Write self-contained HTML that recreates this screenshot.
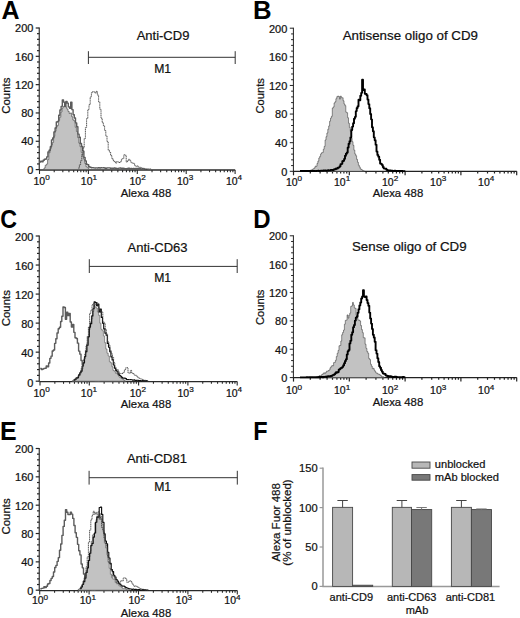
<!DOCTYPE html>
<html><head><meta charset="utf-8"><style>
html,body{margin:0;padding:0;background:#fff;}
svg{display:block;font-family:"Liberation Sans", sans-serif;}
text{stroke:#111;stroke-width:0.22px;paint-order:stroke;}
text[font-weight=bold]{stroke:none;}
</style></head><body>
<svg width="520" height="618" viewBox="0 0 520 618">
<rect width="520" height="618" fill="#fff"/>
<line x1="39.3" y1="27.5" x2="39.3" y2="170.1" stroke="#505050" stroke-width="1.4"/>
<line x1="35.7" y1="169.6" x2="39.3" y2="169.6" stroke="#262626" stroke-width="1.2"/>
<text transform="translate(33.4,173.8) scale(1.06,1)" font-size="10.4" text-anchor="end" font-weight="normal" fill="#111" >0</text>
<line x1="37" y1="163.94" x2="39.3" y2="163.94" stroke="#262626" stroke-width="1.2"/>
<line x1="37" y1="158.27" x2="39.3" y2="158.27" stroke="#262626" stroke-width="1.2"/>
<line x1="37" y1="152.61" x2="39.3" y2="152.61" stroke="#262626" stroke-width="1.2"/>
<line x1="37" y1="146.94" x2="39.3" y2="146.94" stroke="#262626" stroke-width="1.2"/>
<line x1="35.7" y1="141.28" x2="39.3" y2="141.28" stroke="#262626" stroke-width="1.2"/>
<text transform="translate(33.4,145.48) scale(1.06,1)" font-size="10.4" text-anchor="end" font-weight="normal" fill="#111" >40</text>
<line x1="37" y1="135.62" x2="39.3" y2="135.62" stroke="#262626" stroke-width="1.2"/>
<line x1="37" y1="129.95" x2="39.3" y2="129.95" stroke="#262626" stroke-width="1.2"/>
<line x1="37" y1="124.29" x2="39.3" y2="124.29" stroke="#262626" stroke-width="1.2"/>
<line x1="37" y1="118.62" x2="39.3" y2="118.62" stroke="#262626" stroke-width="1.2"/>
<line x1="35.7" y1="112.96" x2="39.3" y2="112.96" stroke="#262626" stroke-width="1.2"/>
<text transform="translate(33.4,117.16) scale(1.06,1)" font-size="10.4" text-anchor="end" font-weight="normal" fill="#111" >80</text>
<line x1="37" y1="107.3" x2="39.3" y2="107.3" stroke="#262626" stroke-width="1.2"/>
<line x1="37" y1="101.63" x2="39.3" y2="101.63" stroke="#262626" stroke-width="1.2"/>
<line x1="37" y1="95.97" x2="39.3" y2="95.97" stroke="#262626" stroke-width="1.2"/>
<line x1="37" y1="90.3" x2="39.3" y2="90.3" stroke="#262626" stroke-width="1.2"/>
<line x1="35.7" y1="84.64" x2="39.3" y2="84.64" stroke="#262626" stroke-width="1.2"/>
<text transform="translate(33.4,88.84) scale(1.06,1)" font-size="10.4" text-anchor="end" font-weight="normal" fill="#111" >120</text>
<line x1="37" y1="78.98" x2="39.3" y2="78.98" stroke="#262626" stroke-width="1.2"/>
<line x1="37" y1="73.31" x2="39.3" y2="73.31" stroke="#262626" stroke-width="1.2"/>
<line x1="37" y1="67.65" x2="39.3" y2="67.65" stroke="#262626" stroke-width="1.2"/>
<line x1="37" y1="61.98" x2="39.3" y2="61.98" stroke="#262626" stroke-width="1.2"/>
<line x1="35.7" y1="56.32" x2="39.3" y2="56.32" stroke="#262626" stroke-width="1.2"/>
<text transform="translate(33.4,60.52) scale(1.06,1)" font-size="10.4" text-anchor="end" font-weight="normal" fill="#111" >160</text>
<line x1="37" y1="50.66" x2="39.3" y2="50.66" stroke="#262626" stroke-width="1.2"/>
<line x1="37" y1="44.99" x2="39.3" y2="44.99" stroke="#262626" stroke-width="1.2"/>
<line x1="37" y1="39.33" x2="39.3" y2="39.33" stroke="#262626" stroke-width="1.2"/>
<line x1="37" y1="33.66" x2="39.3" y2="33.66" stroke="#262626" stroke-width="1.2"/>
<line x1="35.7" y1="28" x2="39.3" y2="28" stroke="#262626" stroke-width="1.2"/>
<text transform="translate(33.4,32.2) scale(1.06,1)" font-size="10.4" text-anchor="end" font-weight="normal" fill="#111" >200</text>
<line x1="39" y1="170" x2="235.2" y2="170" stroke="#2a2a2a" stroke-width="1.4"/>
<line x1="39.5" y1="170" x2="39.5" y2="174" stroke="#2a2a2a" stroke-width="1.1"/>
<line x1="54.22" y1="170" x2="54.22" y2="172.2" stroke="#2a2a2a" stroke-width="1.1"/>
<line x1="62.83" y1="170" x2="62.83" y2="172.2" stroke="#2a2a2a" stroke-width="1.1"/>
<line x1="68.94" y1="170" x2="68.94" y2="172.2" stroke="#2a2a2a" stroke-width="1.1"/>
<line x1="73.68" y1="170" x2="73.68" y2="172.2" stroke="#2a2a2a" stroke-width="1.1"/>
<line x1="77.55" y1="170" x2="77.55" y2="172.2" stroke="#2a2a2a" stroke-width="1.1"/>
<line x1="80.83" y1="170" x2="80.83" y2="172.2" stroke="#2a2a2a" stroke-width="1.1"/>
<line x1="83.66" y1="170" x2="83.66" y2="172.2" stroke="#2a2a2a" stroke-width="1.1"/>
<line x1="86.16" y1="170" x2="86.16" y2="172.2" stroke="#2a2a2a" stroke-width="1.1"/>
<line x1="88.4" y1="170" x2="88.4" y2="174" stroke="#2a2a2a" stroke-width="1.1"/>
<line x1="103.12" y1="170" x2="103.12" y2="172.2" stroke="#2a2a2a" stroke-width="1.1"/>
<line x1="111.73" y1="170" x2="111.73" y2="172.2" stroke="#2a2a2a" stroke-width="1.1"/>
<line x1="117.84" y1="170" x2="117.84" y2="172.2" stroke="#2a2a2a" stroke-width="1.1"/>
<line x1="122.58" y1="170" x2="122.58" y2="172.2" stroke="#2a2a2a" stroke-width="1.1"/>
<line x1="126.45" y1="170" x2="126.45" y2="172.2" stroke="#2a2a2a" stroke-width="1.1"/>
<line x1="129.73" y1="170" x2="129.73" y2="172.2" stroke="#2a2a2a" stroke-width="1.1"/>
<line x1="132.56" y1="170" x2="132.56" y2="172.2" stroke="#2a2a2a" stroke-width="1.1"/>
<line x1="135.06" y1="170" x2="135.06" y2="172.2" stroke="#2a2a2a" stroke-width="1.1"/>
<line x1="137.3" y1="170" x2="137.3" y2="174" stroke="#2a2a2a" stroke-width="1.1"/>
<line x1="152.02" y1="170" x2="152.02" y2="172.2" stroke="#2a2a2a" stroke-width="1.1"/>
<line x1="160.63" y1="170" x2="160.63" y2="172.2" stroke="#2a2a2a" stroke-width="1.1"/>
<line x1="166.74" y1="170" x2="166.74" y2="172.2" stroke="#2a2a2a" stroke-width="1.1"/>
<line x1="171.48" y1="170" x2="171.48" y2="172.2" stroke="#2a2a2a" stroke-width="1.1"/>
<line x1="175.35" y1="170" x2="175.35" y2="172.2" stroke="#2a2a2a" stroke-width="1.1"/>
<line x1="178.63" y1="170" x2="178.63" y2="172.2" stroke="#2a2a2a" stroke-width="1.1"/>
<line x1="181.46" y1="170" x2="181.46" y2="172.2" stroke="#2a2a2a" stroke-width="1.1"/>
<line x1="183.96" y1="170" x2="183.96" y2="172.2" stroke="#2a2a2a" stroke-width="1.1"/>
<line x1="186.2" y1="170" x2="186.2" y2="174" stroke="#2a2a2a" stroke-width="1.1"/>
<line x1="200.92" y1="170" x2="200.92" y2="172.2" stroke="#2a2a2a" stroke-width="1.1"/>
<line x1="209.53" y1="170" x2="209.53" y2="172.2" stroke="#2a2a2a" stroke-width="1.1"/>
<line x1="215.64" y1="170" x2="215.64" y2="172.2" stroke="#2a2a2a" stroke-width="1.1"/>
<line x1="220.38" y1="170" x2="220.38" y2="172.2" stroke="#2a2a2a" stroke-width="1.1"/>
<line x1="224.25" y1="170" x2="224.25" y2="172.2" stroke="#2a2a2a" stroke-width="1.1"/>
<line x1="227.53" y1="170" x2="227.53" y2="172.2" stroke="#2a2a2a" stroke-width="1.1"/>
<line x1="230.36" y1="170" x2="230.36" y2="172.2" stroke="#2a2a2a" stroke-width="1.1"/>
<line x1="232.86" y1="170" x2="232.86" y2="172.2" stroke="#2a2a2a" stroke-width="1.1"/>
<line x1="235.1" y1="170" x2="235.1" y2="174" stroke="#2a2a2a" stroke-width="1.1"/>
<text transform="translate(33.5,185) scale(1.05,1)" font-size="10" fill="#111">10<tspan dy="-4.6" font-size="7.8">0</tspan></text>
<text transform="translate(80.8,185) scale(1.05,1)" font-size="10" fill="#111">10<tspan dy="-4.6" font-size="7.8">1</tspan></text>
<text transform="translate(129.5,185) scale(1.05,1)" font-size="10" fill="#111">10<tspan dy="-4.6" font-size="7.8">2</tspan></text>
<text transform="translate(177,185) scale(1.05,1)" font-size="10" fill="#111">10<tspan dy="-4.6" font-size="7.8">3</tspan></text>
<text transform="translate(225.9,185) scale(1.05,1)" font-size="10" fill="#111">10<tspan dy="-4.6" font-size="7.8">4</tspan></text>
<text x="146" y="196.8" font-size="11.35" text-anchor="middle" font-weight="normal" fill="#111" >Alexa 488</text>
<text transform="translate(9.8,95.7) rotate(-90)" font-size="11.4" text-anchor="middle" fill="#111">Counts</text>
<text x="163" y="40.3" font-size="13" text-anchor="middle" font-weight="normal" fill="#111" >Anti-CD9</text>
<line x1="88.4" y1="57.3" x2="235.2" y2="57.3" stroke="#333" stroke-width="1"/>
<line x1="88.4" y1="51.2" x2="88.4" y2="64" stroke="#333" stroke-width="1"/>
<line x1="235.2" y1="51.2" x2="235.2" y2="64" stroke="#333" stroke-width="1"/>
<text x="162.6" y="73.3" font-size="12.2" text-anchor="middle" font-weight="normal" fill="#111" >M1</text>
<path d="M44,168 L45.2,168 L45.2,165.3 L46.4,165.3 L46.4,164.14 L47.6,164.14 L47.6,159.58 L48.8,159.58 L48.8,152.78 L50,152.78 L50,148.74 L51.2,148.74 L51.2,145.03 L52.4,145.03 L52.4,142.44 L53.6,142.44 L53.6,136.23 L54.8,136.23 L54.8,131.19 L56,131.19 L56,127.03 L57.2,127.03 L57.2,125.44 L58.4,125.44 L58.4,120.4 L59.6,120.4 L59.6,117.21 L60.8,117.21 L60.8,111.98 L62,111.98 L62,108.04 L63.2,108.04 L63.2,106.43 L64.4,106.43 L64.4,106.73 L65.6,106.73 L65.6,107.01 L66.8,107.01 L66.8,109.05 L68,109.05 L68,111.48 L69.2,111.48 L69.2,113.49 L70.4,113.49 L70.4,112.97 L71.6,112.97 L71.6,116.7 L72.8,116.7 L72.8,119.94 L74,119.94 L74,120.96 L75.2,120.96 L75.2,127.24 L76.4,127.24 L76.4,131.49 L77.6,131.49 L77.6,137.54 L78.8,137.54 L78.8,143.1 L80,143.1 L80,146.67 L81.2,146.67 L81.2,152.34 L82.4,152.34 L82.4,156.29 L83.6,156.29 L83.6,159.12 L84.8,159.12 L84.8,163.51 L86,163.51 L86,166.74 L87.2,166.74 L87.2,167.31 L88.4,167.31 L88.4,168.97 L89.6,168.97 L89.6,169.6 L44,169.6 Z" fill="#c2c2c2" stroke="#555" stroke-width="0.7" stroke-linejoin="round"/>
<path d="M39.5,161.96 L40.7,161.96 L40.7,161.31 L41.9,161.31 L41.9,161.68 L43.1,161.68 L43.1,160.25 L44.3,160.25 L44.3,159.28 L45.5,159.28 L45.5,158.94 L46.7,158.94 L46.7,156.84 L47.9,156.84 L47.9,151.97 L49.1,151.97 L49.1,150.21 L50.3,150.21 L50.3,146.77 L51.5,146.77 L51.5,139.92 L52.7,139.92 L52.7,137.84 L53.9,137.84 L53.9,131.91 L55.1,131.91 L55.1,127.93 L56.3,127.93 L56.3,122.07 L57.5,122.07 L57.5,121.36 L58.7,121.36 L58.7,115.23 L59.9,115.23 L59.9,109.96 L61.1,109.96 L61.1,106.36 L62.3,106.36 L62.3,100.02 L63.5,100.02 L63.5,102.1 L64.7,102.1 L64.7,106.41 L65.9,106.41 L65.9,101.36 L67.1,101.36 L67.1,103.17 L68.3,103.17 L68.3,106.85 L69.5,106.85 L69.5,108.32 L70.7,108.32 L70.7,102.08 L71.9,102.08 L71.9,109.67 L73.1,109.67 L73.1,114.8 L74.3,114.8 L74.3,117.96 L75.5,117.96 L75.5,122.92 L76.7,122.92 L76.7,126.78 L77.9,126.78 L77.9,134.09 L79.1,134.09 L79.1,137.21 L80.3,137.21 L80.3,143.47 L81.5,143.47 L81.5,146.43 L82.7,146.43 L82.7,151.11 L83.9,151.11 L83.9,157.37 L85.1,157.37 L85.1,160.92 L86.3,160.92 L86.3,164.29 L87.5,164.29 L87.5,164.68 L88.7,164.68 L88.7,166.68 L89.9,166.68 L89.9,167.3 L91.1,167.3 L91.1,167.76 L92.3,167.76 L92.3,167.66 L93.5,167.66 L93.5,167.89 L94.7,167.89 L94.7,168.04 L95.9,168.04 L95.9,167.92 L97.1,167.92 L97.1,168.03 L98.3,168.03 L98.3,167.75 L99.5,167.75 L99.5,167.97 L100.7,167.97 L100.7,167.76 L101.9,167.76 L101.9,167.85 L103.1,167.85 L103.1,167.74 L104.3,167.74 L104.3,168.05 L105.5,168.05 L105.5,168.51 L106.7,168.51 L106.7,167.91 L107.9,167.91 L107.9,167.84 L109.1,167.84 L109.1,167.91 L110.3,167.91 L110.3,168.22 L111.5,168.22 L111.5,168.11 L112.7,168.11 L112.7,168.56 L113.9,168.56 L113.9,168.05 L115.1,168.05 L115.1,168.28 L116.3,168.28 L116.3,168.54 L117.5,168.54 L117.5,168.74 L118.7,168.74 L118.7,168.1 L119.9,168.1 L119.9,168.01 L121.1,168.01 L121.1,168.77 L122.3,168.77 L122.3,168.22 L123.5,168.22 L123.5,168.55 L124.7,168.55 L124.7,168.78 L125.9,168.78 L125.9,168.69 L127.1,168.69 L127.1,168.35 L128.3,168.35 L128.3,168.3 L129.5,168.3 L129.5,168.94 L130.7,168.94 L130.7,168.54 L131.9,168.54 L131.9,168.98 L133.1,168.98 L133.1,168.52 L134.3,168.52 L134.3,168.82 L135.5,168.82 L135.5,168.45 L136.7,168.45 L136.7,168.41 L137.9,168.41 L137.9,168.77 L139.1,168.77 L139.1,168.46 L140.3,168.46 L140.3,168.97 L141.5,168.97 L141.5,169.17 L142.7,169.17 L142.7,168.91 L143.9,168.91 L143.9,169.29 L145.1,169.29 L145.1,169.25 L146.3,169.25 L146.3,169.19 L147.5,169.19 L147.5,169.15 L148.7,169.15 L148.7,169.45 L149.9,169.45 L149.9,169.3 L151.1,169.3" fill="none" stroke="#5c5c5c" stroke-width="1.4" stroke-linejoin="round" opacity="1"/>
<path d="M78.2,168.07 L79.4,168.07 L79.4,164.89 L80.6,164.89 L80.6,160.83 L81.8,160.83 L81.8,154.55 L83,154.55 L83,147.81 L84.2,147.81 L84.2,138.47 L85.4,138.47 L85.4,127.48 L86.6,127.48 L86.6,118.49 L87.8,118.49 L87.8,109.67 L89,109.67 L89,104.71 L90.2,104.71 L90.2,97.03 L91.4,97.03 L91.4,92.7 L92.6,92.7 L92.6,91.61 L93.8,91.61 L93.8,91.81 L95,91.81 L95,93.1 L96.2,93.1 L96.2,91.34 L97.4,91.34 L97.4,95.08 L98.6,95.08 L98.6,101.88 L99.8,101.88 L99.8,109.24 L101,109.24 L101,118.31 L102.2,118.31 L102.2,122.7 L103.4,122.7 L103.4,125.73 L104.6,125.73 L104.6,130.65 L105.8,130.65 L105.8,135.94 L107,135.94 L107,141.66 L108.2,141.66 L108.2,150.21 L109.4,150.21 L109.4,152.03 L110.6,152.03 L110.6,155.44 L111.8,155.44 L111.8,158.41 L113,158.41 L113,160.64 L114.2,160.64 L114.2,161.41 L115.4,161.41 L115.4,163.12 L116.6,163.12 L116.6,161.65 L117.8,161.65 L117.8,162.02 L119,162.02 L119,162.51 L120.2,162.51 L120.2,161.83 L121.4,161.83 L121.4,159.26 L122.6,159.26 L122.6,158.55 L123.8,158.55 L123.8,154.83 L125,154.83 L125,155.23 L126.2,155.23 L126.2,162.05 L127.4,162.05 L127.4,160.62 L128.6,160.62 L128.6,159.26 L129.8,159.26 L129.8,160.85 L131,160.85 L131,162.6 L132.2,162.6 L132.2,163.31 L133.4,163.31 L133.4,163.34 L134.6,163.34 L134.6,165.62 L135.8,165.62 L135.8,166.27 L137,166.27 L137,166 L138.2,166 L138.2,167.04 L139.4,167.04 L139.4,167.31 L140.6,167.31 L140.6,167.8 L141.8,167.8 L141.8,168.31 L143,168.31 L143,168.19 L144.2,168.19 L144.2,169.13 L145.4,169.13 L145.4,169.27 L146.6,169.27 L146.6,169.51 L147.8,169.51" fill="none" stroke="#3a3a3a" stroke-width="0.85" stroke-linejoin="round" stroke-dasharray="1.3,0.5" opacity="1"/>
<line x1="39.3" y1="235.5" x2="39.3" y2="381.7" stroke="#505050" stroke-width="1.4"/>
<line x1="35.7" y1="381.2" x2="39.3" y2="381.2" stroke="#262626" stroke-width="1.2"/>
<text transform="translate(33.4,386.5) scale(1.06,1)" font-size="10.4" text-anchor="end" font-weight="normal" fill="#111" >0</text>
<line x1="37" y1="375.39" x2="39.3" y2="375.39" stroke="#262626" stroke-width="1.2"/>
<line x1="37" y1="369.58" x2="39.3" y2="369.58" stroke="#262626" stroke-width="1.2"/>
<line x1="37" y1="363.78" x2="39.3" y2="363.78" stroke="#262626" stroke-width="1.2"/>
<line x1="37" y1="357.97" x2="39.3" y2="357.97" stroke="#262626" stroke-width="1.2"/>
<line x1="35.7" y1="352.16" x2="39.3" y2="352.16" stroke="#262626" stroke-width="1.2"/>
<text transform="translate(33.4,357.46) scale(1.06,1)" font-size="10.4" text-anchor="end" font-weight="normal" fill="#111" >40</text>
<line x1="37" y1="346.35" x2="39.3" y2="346.35" stroke="#262626" stroke-width="1.2"/>
<line x1="37" y1="340.54" x2="39.3" y2="340.54" stroke="#262626" stroke-width="1.2"/>
<line x1="37" y1="334.74" x2="39.3" y2="334.74" stroke="#262626" stroke-width="1.2"/>
<line x1="37" y1="328.93" x2="39.3" y2="328.93" stroke="#262626" stroke-width="1.2"/>
<line x1="35.7" y1="323.12" x2="39.3" y2="323.12" stroke="#262626" stroke-width="1.2"/>
<text transform="translate(33.4,328.42) scale(1.06,1)" font-size="10.4" text-anchor="end" font-weight="normal" fill="#111" >80</text>
<line x1="37" y1="317.31" x2="39.3" y2="317.31" stroke="#262626" stroke-width="1.2"/>
<line x1="37" y1="311.5" x2="39.3" y2="311.5" stroke="#262626" stroke-width="1.2"/>
<line x1="37" y1="305.7" x2="39.3" y2="305.7" stroke="#262626" stroke-width="1.2"/>
<line x1="37" y1="299.89" x2="39.3" y2="299.89" stroke="#262626" stroke-width="1.2"/>
<line x1="35.7" y1="294.08" x2="39.3" y2="294.08" stroke="#262626" stroke-width="1.2"/>
<text transform="translate(33.4,299.38) scale(1.06,1)" font-size="10.4" text-anchor="end" font-weight="normal" fill="#111" >120</text>
<line x1="37" y1="288.27" x2="39.3" y2="288.27" stroke="#262626" stroke-width="1.2"/>
<line x1="37" y1="282.46" x2="39.3" y2="282.46" stroke="#262626" stroke-width="1.2"/>
<line x1="37" y1="276.66" x2="39.3" y2="276.66" stroke="#262626" stroke-width="1.2"/>
<line x1="37" y1="270.85" x2="39.3" y2="270.85" stroke="#262626" stroke-width="1.2"/>
<line x1="35.7" y1="265.04" x2="39.3" y2="265.04" stroke="#262626" stroke-width="1.2"/>
<text transform="translate(33.4,270.34) scale(1.06,1)" font-size="10.4" text-anchor="end" font-weight="normal" fill="#111" >160</text>
<line x1="37" y1="259.23" x2="39.3" y2="259.23" stroke="#262626" stroke-width="1.2"/>
<line x1="37" y1="253.42" x2="39.3" y2="253.42" stroke="#262626" stroke-width="1.2"/>
<line x1="37" y1="247.62" x2="39.3" y2="247.62" stroke="#262626" stroke-width="1.2"/>
<line x1="37" y1="241.81" x2="39.3" y2="241.81" stroke="#262626" stroke-width="1.2"/>
<line x1="35.7" y1="236" x2="39.3" y2="236" stroke="#262626" stroke-width="1.2"/>
<text transform="translate(33.4,241.3) scale(1.06,1)" font-size="10.4" text-anchor="end" font-weight="normal" fill="#111" >200</text>
<line x1="39.5" y1="381.6" x2="237.2" y2="381.6" stroke="#2a2a2a" stroke-width="1.4"/>
<line x1="40" y1="381.6" x2="40" y2="385.6" stroke="#2a2a2a" stroke-width="1.1"/>
<line x1="54.84" y1="381.6" x2="54.84" y2="383.8" stroke="#2a2a2a" stroke-width="1.1"/>
<line x1="63.52" y1="381.6" x2="63.52" y2="383.8" stroke="#2a2a2a" stroke-width="1.1"/>
<line x1="69.68" y1="381.6" x2="69.68" y2="383.8" stroke="#2a2a2a" stroke-width="1.1"/>
<line x1="74.46" y1="381.6" x2="74.46" y2="383.8" stroke="#2a2a2a" stroke-width="1.1"/>
<line x1="78.36" y1="381.6" x2="78.36" y2="383.8" stroke="#2a2a2a" stroke-width="1.1"/>
<line x1="81.66" y1="381.6" x2="81.66" y2="383.8" stroke="#2a2a2a" stroke-width="1.1"/>
<line x1="84.52" y1="381.6" x2="84.52" y2="383.8" stroke="#2a2a2a" stroke-width="1.1"/>
<line x1="87.04" y1="381.6" x2="87.04" y2="383.8" stroke="#2a2a2a" stroke-width="1.1"/>
<line x1="89.3" y1="381.6" x2="89.3" y2="385.6" stroke="#2a2a2a" stroke-width="1.1"/>
<line x1="104.14" y1="381.6" x2="104.14" y2="383.8" stroke="#2a2a2a" stroke-width="1.1"/>
<line x1="112.82" y1="381.6" x2="112.82" y2="383.8" stroke="#2a2a2a" stroke-width="1.1"/>
<line x1="118.98" y1="381.6" x2="118.98" y2="383.8" stroke="#2a2a2a" stroke-width="1.1"/>
<line x1="123.76" y1="381.6" x2="123.76" y2="383.8" stroke="#2a2a2a" stroke-width="1.1"/>
<line x1="127.66" y1="381.6" x2="127.66" y2="383.8" stroke="#2a2a2a" stroke-width="1.1"/>
<line x1="130.96" y1="381.6" x2="130.96" y2="383.8" stroke="#2a2a2a" stroke-width="1.1"/>
<line x1="133.82" y1="381.6" x2="133.82" y2="383.8" stroke="#2a2a2a" stroke-width="1.1"/>
<line x1="136.34" y1="381.6" x2="136.34" y2="383.8" stroke="#2a2a2a" stroke-width="1.1"/>
<line x1="138.6" y1="381.6" x2="138.6" y2="385.6" stroke="#2a2a2a" stroke-width="1.1"/>
<line x1="153.44" y1="381.6" x2="153.44" y2="383.8" stroke="#2a2a2a" stroke-width="1.1"/>
<line x1="162.12" y1="381.6" x2="162.12" y2="383.8" stroke="#2a2a2a" stroke-width="1.1"/>
<line x1="168.28" y1="381.6" x2="168.28" y2="383.8" stroke="#2a2a2a" stroke-width="1.1"/>
<line x1="173.06" y1="381.6" x2="173.06" y2="383.8" stroke="#2a2a2a" stroke-width="1.1"/>
<line x1="176.96" y1="381.6" x2="176.96" y2="383.8" stroke="#2a2a2a" stroke-width="1.1"/>
<line x1="180.26" y1="381.6" x2="180.26" y2="383.8" stroke="#2a2a2a" stroke-width="1.1"/>
<line x1="183.12" y1="381.6" x2="183.12" y2="383.8" stroke="#2a2a2a" stroke-width="1.1"/>
<line x1="185.64" y1="381.6" x2="185.64" y2="383.8" stroke="#2a2a2a" stroke-width="1.1"/>
<line x1="187.9" y1="381.6" x2="187.9" y2="385.6" stroke="#2a2a2a" stroke-width="1.1"/>
<line x1="202.74" y1="381.6" x2="202.74" y2="383.8" stroke="#2a2a2a" stroke-width="1.1"/>
<line x1="211.42" y1="381.6" x2="211.42" y2="383.8" stroke="#2a2a2a" stroke-width="1.1"/>
<line x1="217.58" y1="381.6" x2="217.58" y2="383.8" stroke="#2a2a2a" stroke-width="1.1"/>
<line x1="222.36" y1="381.6" x2="222.36" y2="383.8" stroke="#2a2a2a" stroke-width="1.1"/>
<line x1="226.26" y1="381.6" x2="226.26" y2="383.8" stroke="#2a2a2a" stroke-width="1.1"/>
<line x1="229.56" y1="381.6" x2="229.56" y2="383.8" stroke="#2a2a2a" stroke-width="1.1"/>
<line x1="232.42" y1="381.6" x2="232.42" y2="383.8" stroke="#2a2a2a" stroke-width="1.1"/>
<line x1="234.94" y1="381.6" x2="234.94" y2="383.8" stroke="#2a2a2a" stroke-width="1.1"/>
<line x1="237.2" y1="381.6" x2="237.2" y2="385.6" stroke="#2a2a2a" stroke-width="1.1"/>
<text transform="translate(33.5,396.7) scale(1.05,1)" font-size="10" fill="#111">10<tspan dy="-4.6" font-size="7.8">0</tspan></text>
<text transform="translate(80.8,396.7) scale(1.05,1)" font-size="10" fill="#111">10<tspan dy="-4.6" font-size="7.8">1</tspan></text>
<text transform="translate(129.7,396.7) scale(1.05,1)" font-size="10" fill="#111">10<tspan dy="-4.6" font-size="7.8">2</tspan></text>
<text transform="translate(177.5,396.7) scale(1.05,1)" font-size="10" fill="#111">10<tspan dy="-4.6" font-size="7.8">3</tspan></text>
<text transform="translate(225.9,396.7) scale(1.05,1)" font-size="10" fill="#111">10<tspan dy="-4.6" font-size="7.8">4</tspan></text>
<text x="146" y="408.2" font-size="11.35" text-anchor="middle" font-weight="normal" fill="#111" >Alexa 488</text>
<text transform="translate(9.8,308.2) rotate(-90)" font-size="11.4" text-anchor="middle" fill="#111">Counts</text>
<text x="157.5" y="251.5" font-size="13" text-anchor="middle" font-weight="normal" fill="#111" >Anti-CD63</text>
<line x1="89.3" y1="266.4" x2="237.2" y2="266.4" stroke="#333" stroke-width="1"/>
<line x1="89.3" y1="259.2" x2="89.3" y2="273" stroke="#333" stroke-width="1"/>
<line x1="237.2" y1="259.2" x2="237.2" y2="273" stroke="#333" stroke-width="1"/>
<text x="162.6" y="282.2" font-size="12.2" text-anchor="middle" font-weight="normal" fill="#111" >M1</text>
<path d="M40.2,368.43 L41.4,368.43 L41.4,369.52 L42.6,369.52 L42.6,369.05 L43.8,369.05 L43.8,368.33 L45,368.33 L45,368.28 L46.2,368.28 L46.2,366.01 L47.4,366.01 L47.4,366.87 L48.6,366.87 L48.6,363.01 L49.8,363.01 L49.8,358.37 L51,358.37 L51,356.15 L52.2,356.15 L52.2,350.94 L53.4,350.94 L53.4,350.05 L54.6,350.05 L54.6,343.36 L55.8,343.36 L55.8,338.8 L57,338.8 L57,333.01 L58.2,333.01 L58.2,328.8 L59.4,328.8 L59.4,327.25 L60.6,327.25 L60.6,321.46 L61.8,321.46 L61.8,316.23 L63,316.23 L63,307.06 L64.2,307.06 L64.2,307.56 L65.4,307.56 L65.4,319.24 L66.6,319.24 L66.6,312.24 L67.8,312.24 L67.8,315.52 L69,315.52 L69,313.41 L70.2,313.41 L70.2,322.05 L71.4,322.05 L71.4,327.02 L72.6,327.02 L72.6,324.54 L73.8,324.54 L73.8,332.37 L75,332.37 L75,337.79 L76.2,337.79 L76.2,338.56 L77.4,338.56 L77.4,343.15 L78.6,343.15 L78.6,351.11 L79.8,351.11 L79.8,354.16 L81,354.16 L81,360.46 L82.2,360.46 L82.2,364.62 L83.4,364.62 L83.4,369.02 L84.6,369.02 L84.6,370.24 L85.8,370.24 L85.8,373.1 L87,373.1 L87,374.45 L88.2,374.45 L88.2,376.39 L89.4,376.39 L89.4,378.42 L90.6,378.42 L90.6,379.46 L91.8,379.46 L91.8,380.15 L93,380.15 L93,380.39 L94.2,380.39 L94.2,380.65 L95.4,380.65 L95.4,380.72 L96.6,380.72 L96.6,380.63 L97.8,380.63 L97.8,381.04 L99,381.04 L99,380.78 L100.2,380.78" fill="none" stroke="#5c5c5c" stroke-width="1.4" stroke-linejoin="round" opacity="1"/>
<path d="M72.2,380.64 L73.4,380.64 L73.4,379.74 L74.6,379.74 L74.6,379.22 L75.8,379.22 L75.8,378.7 L77,378.7 L77,378.04 L78.2,378.04 L78.2,375.82 L79.4,375.82 L79.4,374.52 L80.6,374.52 L80.6,370.89 L81.8,370.89 L81.8,368.88 L83,368.88 L83,362.69 L84.2,362.69 L84.2,358.7 L85.4,358.7 L85.4,350.21 L86.6,350.21 L86.6,343.81 L87.8,343.81 L87.8,337.51 L89,337.51 L89,329.31 L90.2,329.31 L90.2,321.99 L91.4,321.99 L91.4,318.82 L92.6,318.82 L92.6,311.46 L93.8,311.46 L93.8,305.23 L95,305.23 L95,306.98 L96.2,306.98 L96.2,308.07 L97.4,308.07 L97.4,312 L98.6,312 L98.6,315.34 L99.8,315.34 L99.8,323.15 L101,323.15 L101,329.31 L102.2,329.31 L102.2,330.69 L103.4,330.69 L103.4,335.95 L104.6,335.95 L104.6,342.66 L105.8,342.66 L105.8,348.98 L107,348.98 L107,353.19 L108.2,353.19 L108.2,356.01 L109.4,356.01 L109.4,361.76 L110.6,361.76 L110.6,362.84 L111.8,362.84 L111.8,366.7 L113,366.7 L113,370.43 L114.2,370.43 L114.2,371.25 L115.4,371.25 L115.4,373.29 L116.6,373.29 L116.6,373.53 L117.8,373.53 L117.8,375.05 L119,375.05 L119,377 L120.2,377 L120.2,377.72 L121.4,377.72 L121.4,378.58 L122.6,378.58 L122.6,379.43 L123.8,379.43 L123.8,380.33 L125,380.33 L125,381.2 L126.2,381.2 L126.2,381.2 L72.2,381.2 Z" fill="#c2c2c2" stroke="#555" stroke-width="0.6" stroke-linejoin="round"/>
<path d="M73.7,380.07 L74.9,380.07 L74.9,379.35 L76.1,379.35 L76.1,377.8 L77.3,377.8 L77.3,377.69 L78.5,377.69 L78.5,374.88 L79.7,374.88 L79.7,372.78 L80.9,372.78 L80.9,371.13 L82.1,371.13 L82.1,366.03 L83.3,366.03 L83.3,362.88 L84.5,362.88 L84.5,356.57 L85.7,356.57 L85.7,351.65 L86.9,351.65 L86.9,345.25 L88.1,345.25 L88.1,336.63 L89.3,336.63 L89.3,327.06 L90.5,327.06 L90.5,323.69 L91.7,323.69 L91.7,315.9 L92.9,315.9 L92.9,308.7 L94.1,308.7 L94.1,301.89 L95.3,301.89 L95.3,302.52 L96.5,302.52 L96.5,305.71 L97.7,305.71 L97.7,303.96 L98.9,303.96 L98.9,312 L100.1,312 L100.1,308.95 L101.3,308.95 L101.3,317.38 L102.5,317.38 L102.5,323.21 L103.7,323.21 L103.7,328.93 L104.9,328.93 L104.9,333.15 L106.1,333.15 L106.1,335.21 L107.3,335.21 L107.3,343.39 L108.5,343.39 L108.5,347.26 L109.7,347.26 L109.7,351.79 L110.9,351.79 L110.9,356.87 L112.1,356.87 L112.1,359.91 L113.3,359.91 L113.3,365 L114.5,365 L114.5,368.22 L115.7,368.22 L115.7,370.4 L116.9,370.4 L116.9,371.93 L118.1,371.93 L118.1,374.07 L119.3,374.07 L119.3,375.49 L120.5,375.49 L120.5,376.23 L121.7,376.23 L121.7,377.6 L122.9,377.6 L122.9,378.25 L124.1,378.25 L124.1,378.05 L125.3,378.05 L125.3,378.63 L126.5,378.63 L126.5,379.56 L127.7,379.56 L127.7,379.64 L128.9,379.64 L128.9,379.77 L130.1,379.77 L130.1,379.56 L131.3,379.56 L131.3,379.77 L132.5,379.77 L132.5,380.22 L133.7,380.22 L133.7,379.76 L134.9,379.76 L134.9,380.5 L136.1,380.5 L136.1,380.37 L137.3,380.37 L137.3,380.22 L138.5,380.22 L138.5,380.68 L139.7,380.68 L139.7,380.52 L140.9,380.52 L140.9,380.85 L142.1,380.85 L142.1,380.54 L143.3,380.54 L143.3,380.55 L144.5,380.55 L144.5,380.72 L145.7,380.72 L145.7,380.62 L146.9,380.62 L146.9,380.97 L148.1,380.97" fill="none" stroke="#111" stroke-width="1.15" stroke-linejoin="round" opacity="1"/>
<path d="M74,380.39 L75.2,380.39 L75.2,378.64 L76.4,378.64 L76.4,378.59 L77.6,378.59 L77.6,376.75 L78.8,376.75 L78.8,375.63 L80,375.63 L80,372.81 L81.2,372.81 L81.2,368.36 L82.4,368.36 L82.4,365.75 L83.6,365.75 L83.6,359.17 L84.8,359.17 L84.8,353.64 L86,353.64 L86,345.53 L87.2,345.53 L87.2,336.46 L88.4,336.46 L88.4,327.11 L89.6,327.11 L89.6,313.34 L90.8,313.34 L90.8,310.38 L92,310.38 L92,304.76 L93.2,304.76 L93.2,303.83 L94.4,303.83 L94.4,303.48 L95.6,303.48 L95.6,304.6 L96.8,304.6 L96.8,302.91 L98,302.91 L98,307.12 L99.2,307.12 L99.2,309.63 L100.4,309.63 L100.4,312.39 L101.6,312.39 L101.6,311.86 L102.8,311.86 L102.8,321.78 L104,321.78 L104,323.32 L105.2,323.32 L105.2,329.47 L106.4,329.47 L106.4,333.99 L107.6,333.99 L107.6,341.71 L108.8,341.71 L108.8,345.23 L110,345.23 L110,350.25 L111.2,350.25 L111.2,353.82 L112.4,353.82 L112.4,357.17 L113.6,357.17 L113.6,362.54 L114.8,362.54 L114.8,367.12 L116,367.12 L116,369.61 L117.2,369.61 L117.2,369.72 L118.4,369.72 L118.4,372.03 L119.6,372.03 L119.6,373.85 L120.8,373.85 L120.8,373.53 L122,373.53 L122,373.53 L123.2,373.53 L123.2,372.32 L124.4,372.32 L124.4,369.9 L125.6,369.9 L125.6,367.87 L126.8,367.87 L126.8,367.67 L128,367.67 L128,372.91 L129.2,372.91 L129.2,373.17 L130.4,373.17 L130.4,370.39 L131.6,370.39 L131.6,373.17 L132.8,373.17 L132.8,373.64 L134,373.64 L134,375.04 L135.2,375.04 L135.2,375.27 L136.4,375.27 L136.4,376.11 L137.6,376.11 L137.6,377.29 L138.8,377.29 L138.8,378.3 L140,378.3 L140,378.91 L141.2,378.91 L141.2,379.03 L142.4,379.03 L142.4,379.64 L143.6,379.64 L143.6,380.42 L144.8,380.42 L144.8,380.23 L146,380.23 L146,380.89 L147.2,380.89 L147.2,381.2 L148.4,381.2" fill="none" stroke="#3a3a3a" stroke-width="0.85" stroke-linejoin="round" stroke-dasharray="1.3,0.5" opacity="1"/>
<line x1="39.3" y1="448" x2="39.3" y2="590.7" stroke="#505050" stroke-width="1.4"/>
<line x1="35.7" y1="590.2" x2="39.3" y2="590.2" stroke="#262626" stroke-width="1.2"/>
<text transform="translate(33.4,594.8) scale(1.06,1)" font-size="10.4" text-anchor="end" font-weight="normal" fill="#111" >0</text>
<line x1="37" y1="584.53" x2="39.3" y2="584.53" stroke="#262626" stroke-width="1.2"/>
<line x1="37" y1="578.86" x2="39.3" y2="578.86" stroke="#262626" stroke-width="1.2"/>
<line x1="37" y1="573.2" x2="39.3" y2="573.2" stroke="#262626" stroke-width="1.2"/>
<line x1="37" y1="567.53" x2="39.3" y2="567.53" stroke="#262626" stroke-width="1.2"/>
<line x1="35.7" y1="561.86" x2="39.3" y2="561.86" stroke="#262626" stroke-width="1.2"/>
<text transform="translate(33.4,566.46) scale(1.06,1)" font-size="10.4" text-anchor="end" font-weight="normal" fill="#111" >40</text>
<line x1="37" y1="556.19" x2="39.3" y2="556.19" stroke="#262626" stroke-width="1.2"/>
<line x1="37" y1="550.52" x2="39.3" y2="550.52" stroke="#262626" stroke-width="1.2"/>
<line x1="37" y1="544.86" x2="39.3" y2="544.86" stroke="#262626" stroke-width="1.2"/>
<line x1="37" y1="539.19" x2="39.3" y2="539.19" stroke="#262626" stroke-width="1.2"/>
<line x1="35.7" y1="533.52" x2="39.3" y2="533.52" stroke="#262626" stroke-width="1.2"/>
<text transform="translate(33.4,538.12) scale(1.06,1)" font-size="10.4" text-anchor="end" font-weight="normal" fill="#111" >80</text>
<line x1="37" y1="527.85" x2="39.3" y2="527.85" stroke="#262626" stroke-width="1.2"/>
<line x1="37" y1="522.18" x2="39.3" y2="522.18" stroke="#262626" stroke-width="1.2"/>
<line x1="37" y1="516.52" x2="39.3" y2="516.52" stroke="#262626" stroke-width="1.2"/>
<line x1="37" y1="510.85" x2="39.3" y2="510.85" stroke="#262626" stroke-width="1.2"/>
<line x1="35.7" y1="505.18" x2="39.3" y2="505.18" stroke="#262626" stroke-width="1.2"/>
<text transform="translate(33.4,509.78) scale(1.06,1)" font-size="10.4" text-anchor="end" font-weight="normal" fill="#111" >120</text>
<line x1="37" y1="499.51" x2="39.3" y2="499.51" stroke="#262626" stroke-width="1.2"/>
<line x1="37" y1="493.84" x2="39.3" y2="493.84" stroke="#262626" stroke-width="1.2"/>
<line x1="37" y1="488.18" x2="39.3" y2="488.18" stroke="#262626" stroke-width="1.2"/>
<line x1="37" y1="482.51" x2="39.3" y2="482.51" stroke="#262626" stroke-width="1.2"/>
<line x1="35.7" y1="476.84" x2="39.3" y2="476.84" stroke="#262626" stroke-width="1.2"/>
<text transform="translate(33.4,481.44) scale(1.06,1)" font-size="10.4" text-anchor="end" font-weight="normal" fill="#111" >160</text>
<line x1="37" y1="471.17" x2="39.3" y2="471.17" stroke="#262626" stroke-width="1.2"/>
<line x1="37" y1="465.5" x2="39.3" y2="465.5" stroke="#262626" stroke-width="1.2"/>
<line x1="37" y1="459.84" x2="39.3" y2="459.84" stroke="#262626" stroke-width="1.2"/>
<line x1="37" y1="454.17" x2="39.3" y2="454.17" stroke="#262626" stroke-width="1.2"/>
<line x1="35.7" y1="448.5" x2="39.3" y2="448.5" stroke="#262626" stroke-width="1.2"/>
<text transform="translate(33.4,453.1) scale(1.06,1)" font-size="10.4" text-anchor="end" font-weight="normal" fill="#111" >200</text>
<line x1="39.2" y1="590.6" x2="237.3" y2="590.6" stroke="#2a2a2a" stroke-width="1.4"/>
<line x1="39.7" y1="590.6" x2="39.7" y2="594.6" stroke="#2a2a2a" stroke-width="1.1"/>
<line x1="54.57" y1="590.6" x2="54.57" y2="592.8" stroke="#2a2a2a" stroke-width="1.1"/>
<line x1="63.27" y1="590.6" x2="63.27" y2="592.8" stroke="#2a2a2a" stroke-width="1.1"/>
<line x1="69.44" y1="590.6" x2="69.44" y2="592.8" stroke="#2a2a2a" stroke-width="1.1"/>
<line x1="74.23" y1="590.6" x2="74.23" y2="592.8" stroke="#2a2a2a" stroke-width="1.1"/>
<line x1="78.14" y1="590.6" x2="78.14" y2="592.8" stroke="#2a2a2a" stroke-width="1.1"/>
<line x1="81.45" y1="590.6" x2="81.45" y2="592.8" stroke="#2a2a2a" stroke-width="1.1"/>
<line x1="84.31" y1="590.6" x2="84.31" y2="592.8" stroke="#2a2a2a" stroke-width="1.1"/>
<line x1="86.84" y1="590.6" x2="86.84" y2="592.8" stroke="#2a2a2a" stroke-width="1.1"/>
<line x1="89.1" y1="590.6" x2="89.1" y2="594.6" stroke="#2a2a2a" stroke-width="1.1"/>
<line x1="103.97" y1="590.6" x2="103.97" y2="592.8" stroke="#2a2a2a" stroke-width="1.1"/>
<line x1="112.67" y1="590.6" x2="112.67" y2="592.8" stroke="#2a2a2a" stroke-width="1.1"/>
<line x1="118.84" y1="590.6" x2="118.84" y2="592.8" stroke="#2a2a2a" stroke-width="1.1"/>
<line x1="123.63" y1="590.6" x2="123.63" y2="592.8" stroke="#2a2a2a" stroke-width="1.1"/>
<line x1="127.54" y1="590.6" x2="127.54" y2="592.8" stroke="#2a2a2a" stroke-width="1.1"/>
<line x1="130.85" y1="590.6" x2="130.85" y2="592.8" stroke="#2a2a2a" stroke-width="1.1"/>
<line x1="133.71" y1="590.6" x2="133.71" y2="592.8" stroke="#2a2a2a" stroke-width="1.1"/>
<line x1="136.24" y1="590.6" x2="136.24" y2="592.8" stroke="#2a2a2a" stroke-width="1.1"/>
<line x1="138.5" y1="590.6" x2="138.5" y2="594.6" stroke="#2a2a2a" stroke-width="1.1"/>
<line x1="153.37" y1="590.6" x2="153.37" y2="592.8" stroke="#2a2a2a" stroke-width="1.1"/>
<line x1="162.07" y1="590.6" x2="162.07" y2="592.8" stroke="#2a2a2a" stroke-width="1.1"/>
<line x1="168.24" y1="590.6" x2="168.24" y2="592.8" stroke="#2a2a2a" stroke-width="1.1"/>
<line x1="173.03" y1="590.6" x2="173.03" y2="592.8" stroke="#2a2a2a" stroke-width="1.1"/>
<line x1="176.94" y1="590.6" x2="176.94" y2="592.8" stroke="#2a2a2a" stroke-width="1.1"/>
<line x1="180.25" y1="590.6" x2="180.25" y2="592.8" stroke="#2a2a2a" stroke-width="1.1"/>
<line x1="183.11" y1="590.6" x2="183.11" y2="592.8" stroke="#2a2a2a" stroke-width="1.1"/>
<line x1="185.64" y1="590.6" x2="185.64" y2="592.8" stroke="#2a2a2a" stroke-width="1.1"/>
<line x1="187.9" y1="590.6" x2="187.9" y2="594.6" stroke="#2a2a2a" stroke-width="1.1"/>
<line x1="202.77" y1="590.6" x2="202.77" y2="592.8" stroke="#2a2a2a" stroke-width="1.1"/>
<line x1="211.47" y1="590.6" x2="211.47" y2="592.8" stroke="#2a2a2a" stroke-width="1.1"/>
<line x1="217.64" y1="590.6" x2="217.64" y2="592.8" stroke="#2a2a2a" stroke-width="1.1"/>
<line x1="222.43" y1="590.6" x2="222.43" y2="592.8" stroke="#2a2a2a" stroke-width="1.1"/>
<line x1="226.34" y1="590.6" x2="226.34" y2="592.8" stroke="#2a2a2a" stroke-width="1.1"/>
<line x1="229.65" y1="590.6" x2="229.65" y2="592.8" stroke="#2a2a2a" stroke-width="1.1"/>
<line x1="232.51" y1="590.6" x2="232.51" y2="592.8" stroke="#2a2a2a" stroke-width="1.1"/>
<line x1="235.04" y1="590.6" x2="235.04" y2="592.8" stroke="#2a2a2a" stroke-width="1.1"/>
<line x1="237.3" y1="590.6" x2="237.3" y2="594.6" stroke="#2a2a2a" stroke-width="1.1"/>
<text transform="translate(31.9,604.4) scale(1.05,1)" font-size="10" fill="#111">10<tspan dy="-4.6" font-size="7.8">0</tspan></text>
<text transform="translate(79.7,604.4) scale(1.05,1)" font-size="10" fill="#111">10<tspan dy="-4.6" font-size="7.8">1</tspan></text>
<text transform="translate(128.5,604.4) scale(1.05,1)" font-size="10" fill="#111">10<tspan dy="-4.6" font-size="7.8">2</tspan></text>
<text transform="translate(175.8,604.4) scale(1.05,1)" font-size="10" fill="#111">10<tspan dy="-4.6" font-size="7.8">3</tspan></text>
<text transform="translate(224.3,604.4) scale(1.05,1)" font-size="10" fill="#111">10<tspan dy="-4.6" font-size="7.8">4</tspan></text>
<text x="146" y="616.7" font-size="11.35" text-anchor="middle" font-weight="normal" fill="#111" >Alexa 488</text>
<text transform="translate(9.8,516.4) rotate(-90)" font-size="11.4" text-anchor="middle" fill="#111">Counts</text>
<text x="156.9" y="462.9" font-size="13" text-anchor="middle" font-weight="normal" fill="#111" >Anti-CD81</text>
<line x1="89.1" y1="477.7" x2="237.3" y2="477.7" stroke="#333" stroke-width="1"/>
<line x1="89.1" y1="470.8" x2="89.1" y2="484.6" stroke="#333" stroke-width="1"/>
<line x1="237.3" y1="470.8" x2="237.3" y2="484.6" stroke="#333" stroke-width="1"/>
<text x="162.6" y="490.9" font-size="12.2" text-anchor="middle" font-weight="normal" fill="#111" >M1</text>
<path d="M40.3,588.7 L41.5,588.7 L41.5,588.33 L42.7,588.33 L42.7,588.15 L43.9,588.15 L43.9,586.78 L45.1,586.78 L45.1,587.47 L46.3,587.47 L46.3,586.31 L47.5,586.31 L47.5,583.99 L48.7,583.99 L48.7,583.55 L49.9,583.55 L49.9,580.55 L51.1,580.55 L51.1,578.37 L52.3,578.37 L52.3,576.53 L53.5,576.53 L53.5,571.99 L54.7,571.99 L54.7,567.49 L55.9,567.49 L55.9,565.41 L57.1,565.41 L57.1,561.35 L58.3,561.35 L58.3,557.63 L59.5,557.63 L59.5,550.23 L60.7,550.23 L60.7,543.94 L61.9,543.94 L61.9,535.38 L63.1,535.38 L63.1,526.42 L64.3,526.42 L64.3,520.25 L65.5,520.25 L65.5,509.75 L66.7,509.75 L66.7,512.3 L67.9,512.3 L67.9,514.48 L69.1,514.48 L69.1,514.62 L70.3,514.62 L70.3,512.16 L71.5,512.16 L71.5,514.16 L72.7,514.16 L72.7,518.4 L73.9,518.4 L73.9,525.5 L75.1,525.5 L75.1,532.68 L76.3,532.68 L76.3,537.35 L77.5,537.35 L77.5,544.36 L78.7,544.36 L78.7,550.71 L79.9,550.71 L79.9,554.9 L81.1,554.9 L81.1,563.97 L82.3,563.97 L82.3,567.85 L83.5,567.85 L83.5,574 L84.7,574 L84.7,582.04 L85.9,582.04 L85.9,584.3 L87.1,584.3 L87.1,585.71 L88.3,585.71 L88.3,587.92 L89.5,587.92 L89.5,588.99 L90.7,588.99 L90.7,589.07 L91.9,589.07 L91.9,589.77 L93.1,589.77 L93.1,589.66 L94.3,589.66 L94.3,590.09 L95.5,590.09" fill="none" stroke="#5c5c5c" stroke-width="1.4" stroke-linejoin="round" opacity="1"/>
<path d="M78,589.56 L79.2,589.56 L79.2,588.47 L80.4,588.47 L80.4,587.1 L81.6,587.1 L81.6,585.1 L82.8,585.1 L82.8,581.28 L84,581.28 L84,577.77 L85.2,577.77 L85.2,573.33 L86.4,573.33 L86.4,570.17 L87.6,570.17 L87.6,562.63 L88.8,562.63 L88.8,556.89 L90,556.89 L90,550.88 L91.2,550.88 L91.2,541.33 L92.4,541.33 L92.4,534.91 L93.6,534.91 L93.6,533.91 L94.8,533.91 L94.8,522.63 L96,522.63 L96,519.58 L97.2,519.58 L97.2,517.02 L98.4,517.02 L98.4,514.95 L99.6,514.95 L99.6,513.7 L100.8,513.7 L100.8,519.13 L102,519.13 L102,524.21 L103.2,524.21 L103.2,532.12 L104.4,532.12 L104.4,542.96 L105.6,542.96 L105.6,547.88 L106.8,547.88 L106.8,554.58 L108,554.58 L108,562.18 L109.2,562.18 L109.2,568.27 L110.4,568.27 L110.4,574.25 L111.6,574.25 L111.6,577.64 L112.8,577.64 L112.8,579.14 L114,579.14 L114,579.08 L115.2,579.08 L115.2,582.49 L116.4,582.49 L116.4,583.84 L117.6,583.84 L117.6,583.8 L118.8,583.8 L118.8,585.74 L120,585.74 L120,586.29 L121.2,586.29 L121.2,587.37 L122.4,587.37 L122.4,588.53 L123.6,588.53 L123.6,588.41 L124.8,588.41 L124.8,588.65 L126,588.65 L126,589.62 L127.2,589.62 L127.2,589.98 L128.4,589.98 L128.4,590.2 L129.6,590.2 L129.6,590.2 L78,590.2 Z" fill="#c2c2c2" stroke="#555" stroke-width="0.6" stroke-linejoin="round"/>
<path d="M80,588.55 L81.2,588.55 L81.2,587.04 L82.4,587.04 L82.4,584.32 L83.6,584.32 L83.6,581.63 L84.8,581.63 L84.8,578.05 L86,578.05 L86,572.43 L87.2,572.43 L87.2,567.85 L88.4,567.85 L88.4,560.52 L89.6,560.52 L89.6,553.23 L90.8,553.23 L90.8,545.61 L92,545.61 L92,543.42 L93.2,543.42 L93.2,537.11 L94.4,537.11 L94.4,533.03 L95.6,533.03 L95.6,522.25 L96.8,522.25 L96.8,516.82 L98,516.82 L98,517.13 L99.2,517.13 L99.2,507.51 L100.4,507.51 L100.4,506.97 L101.6,506.97 L101.6,514.42 L102.8,514.42 L102.8,522.4 L104,522.4 L104,533.94 L105.2,533.94 L105.2,540.97 L106.4,540.97 L106.4,543.73 L107.6,543.73 L107.6,552.28 L108.8,552.28 L108.8,558.01 L110,558.01 L110,563.34 L111.2,563.34 L111.2,569.56 L112.4,569.56 L112.4,571.62 L113.6,571.62 L113.6,575.27 L114.8,575.27 L114.8,577.04 L116,577.04 L116,579.67 L117.2,579.67 L117.2,581.18 L118.4,581.18 L118.4,583.26 L119.6,583.26 L119.6,584.15 L120.8,584.15 L120.8,585.27 L122,585.27 L122,586.29 L123.2,586.29 L123.2,586.01 L124.4,586.01 L124.4,586.84 L125.6,586.84 L125.6,587.6 L126.8,587.6 L126.8,587.96 L128,587.96 L128,588.57 L129.2,588.57 L129.2,588.84 L130.4,588.84 L130.4,588.97 L131.6,588.97 L131.6,589.34 L132.8,589.34 L132.8,588.98 L134,588.98 L134,589.45 L135.2,589.45 L135.2,589.38 L136.4,589.38 L136.4,589.77 L137.6,589.77 L137.6,589.5 L138.8,589.5 L138.8,589.59 L140,589.59 L140,590.07 L141.2,590.07 L141.2,589.99 L142.4,589.99 L142.4,589.65 L143.6,589.65 L143.6,589.9 L144.8,589.9 L144.8,589.93 L146,589.93 L146,589.96 L147.2,589.96 L147.2,589.99 L148.4,589.99" fill="none" stroke="#111" stroke-width="1.15" stroke-linejoin="round" opacity="1"/>
<path d="M80,588.23 L81.2,588.23 L81.2,585.96 L82.4,585.96 L82.4,583.89 L83.6,583.89 L83.6,580.62 L84.8,580.62 L84.8,576.73 L86,576.73 L86,566.83 L87.2,566.83 L87.2,556.93 L88.4,556.93 L88.4,542.28 L89.6,542.28 L89.6,530.17 L90.8,530.17 L90.8,519.86 L92,519.86 L92,515.32 L93.2,515.32 L93.2,511.29 L94.4,511.29 L94.4,514.3 L95.6,514.3 L95.6,512.42 L96.8,512.42 L96.8,515.04 L98,515.04 L98,511.65 L99.2,511.65 L99.2,519.34 L100.4,519.34 L100.4,516.68 L101.6,516.68 L101.6,527.53 L102.8,527.53 L102.8,530.12 L104,530.12 L104,537.9 L105.2,537.9 L105.2,543.31 L106.4,543.31 L106.4,547.13 L107.6,547.13 L107.6,557.13 L108.8,557.13 L108.8,562.96 L110,562.96 L110,564.54 L111.2,564.54 L111.2,570.81 L112.4,570.81 L112.4,576.78 L113.6,576.78 L113.6,576.98 L114.8,576.98 L114.8,578.73 L116,578.73 L116,582.24 L117.2,582.24 L117.2,583.09 L118.4,583.09 L118.4,583.3 L119.6,583.3 L119.6,582.17 L120.8,582.17 L120.8,580.71 L122,580.71 L122,581 L123.2,581 L123.2,577.91 L124.4,577.91 L124.4,577.88 L125.6,577.88 L125.6,578.99 L126.8,578.99 L126.8,582.37 L128,582.37 L128,582.06 L129.2,582.06 L129.2,580.87 L130.4,580.87 L130.4,581.02 L131.6,581.02 L131.6,583.07 L132.8,583.07 L132.8,585 L134,585 L134,586.32 L135.2,586.32 L135.2,585.98 L136.4,585.98 L136.4,586.45 L137.6,586.45 L137.6,587.21 L138.8,587.21 L138.8,587.99 L140,587.99 L140,588.7 L141.2,588.7 L141.2,589.08 L142.4,589.08 L142.4,589.24 L143.6,589.24 L143.6,589.63 L144.8,589.63 L144.8,590.08 L146,590.08 L146,590.03 L147.2,590.03 L147.2,590.18 L148.4,590.18" fill="none" stroke="#3a3a3a" stroke-width="0.85" stroke-linejoin="round" stroke-dasharray="1.3,0.5" opacity="1"/>
<line x1="293.4" y1="27.7" x2="293.4" y2="171.8" stroke="#222" stroke-width="1.0"/>
<line x1="289.8" y1="171.3" x2="293.4" y2="171.3" stroke="#222" stroke-width="1.0"/>
<text transform="translate(287.3,175.7) scale(1.06,1)" font-size="10.4" text-anchor="end" font-weight="normal" fill="#111" >0</text>
<line x1="291.1" y1="165.58" x2="293.4" y2="165.58" stroke="#222" stroke-width="1.0"/>
<line x1="291.1" y1="159.85" x2="293.4" y2="159.85" stroke="#222" stroke-width="1.0"/>
<line x1="291.1" y1="154.13" x2="293.4" y2="154.13" stroke="#222" stroke-width="1.0"/>
<line x1="291.1" y1="148.4" x2="293.4" y2="148.4" stroke="#222" stroke-width="1.0"/>
<line x1="289.8" y1="142.68" x2="293.4" y2="142.68" stroke="#222" stroke-width="1.0"/>
<text transform="translate(287.3,147.08) scale(1.06,1)" font-size="10.4" text-anchor="end" font-weight="normal" fill="#111" >40</text>
<line x1="291.1" y1="136.96" x2="293.4" y2="136.96" stroke="#222" stroke-width="1.0"/>
<line x1="291.1" y1="131.23" x2="293.4" y2="131.23" stroke="#222" stroke-width="1.0"/>
<line x1="291.1" y1="125.51" x2="293.4" y2="125.51" stroke="#222" stroke-width="1.0"/>
<line x1="291.1" y1="119.78" x2="293.4" y2="119.78" stroke="#222" stroke-width="1.0"/>
<line x1="289.8" y1="114.06" x2="293.4" y2="114.06" stroke="#222" stroke-width="1.0"/>
<text transform="translate(287.3,118.46) scale(1.06,1)" font-size="10.4" text-anchor="end" font-weight="normal" fill="#111" >80</text>
<line x1="291.1" y1="108.34" x2="293.4" y2="108.34" stroke="#222" stroke-width="1.0"/>
<line x1="291.1" y1="102.61" x2="293.4" y2="102.61" stroke="#222" stroke-width="1.0"/>
<line x1="291.1" y1="96.89" x2="293.4" y2="96.89" stroke="#222" stroke-width="1.0"/>
<line x1="291.1" y1="91.16" x2="293.4" y2="91.16" stroke="#222" stroke-width="1.0"/>
<line x1="289.8" y1="85.44" x2="293.4" y2="85.44" stroke="#222" stroke-width="1.0"/>
<text transform="translate(287.3,89.84) scale(1.06,1)" font-size="10.4" text-anchor="end" font-weight="normal" fill="#111" >120</text>
<line x1="291.1" y1="79.72" x2="293.4" y2="79.72" stroke="#222" stroke-width="1.0"/>
<line x1="291.1" y1="73.99" x2="293.4" y2="73.99" stroke="#222" stroke-width="1.0"/>
<line x1="291.1" y1="68.27" x2="293.4" y2="68.27" stroke="#222" stroke-width="1.0"/>
<line x1="291.1" y1="62.54" x2="293.4" y2="62.54" stroke="#222" stroke-width="1.0"/>
<line x1="289.8" y1="56.82" x2="293.4" y2="56.82" stroke="#222" stroke-width="1.0"/>
<text transform="translate(287.3,61.22) scale(1.06,1)" font-size="10.4" text-anchor="end" font-weight="normal" fill="#111" >160</text>
<line x1="291.1" y1="51.1" x2="293.4" y2="51.1" stroke="#222" stroke-width="1.0"/>
<line x1="291.1" y1="45.37" x2="293.4" y2="45.37" stroke="#222" stroke-width="1.0"/>
<line x1="291.1" y1="39.65" x2="293.4" y2="39.65" stroke="#222" stroke-width="1.0"/>
<line x1="291.1" y1="33.92" x2="293.4" y2="33.92" stroke="#222" stroke-width="1.0"/>
<line x1="289.8" y1="28.2" x2="293.4" y2="28.2" stroke="#222" stroke-width="1.0"/>
<text transform="translate(287.3,32.6) scale(1.06,1)" font-size="10.4" text-anchor="end" font-weight="normal" fill="#111" >200</text>
<line x1="293" y1="171.3" x2="516.8" y2="171.3" stroke="#222" stroke-width="1.2"/>
<line x1="293.5" y1="171.3" x2="293.5" y2="175.3" stroke="#222" stroke-width="1.2"/>
<line x1="310.3" y1="171.3" x2="310.3" y2="173.5" stroke="#222" stroke-width="1.2"/>
<line x1="320.12" y1="171.3" x2="320.12" y2="173.5" stroke="#222" stroke-width="1.2"/>
<line x1="327.09" y1="171.3" x2="327.09" y2="173.5" stroke="#222" stroke-width="1.2"/>
<line x1="332.5" y1="171.3" x2="332.5" y2="173.5" stroke="#222" stroke-width="1.2"/>
<line x1="336.92" y1="171.3" x2="336.92" y2="173.5" stroke="#222" stroke-width="1.2"/>
<line x1="340.66" y1="171.3" x2="340.66" y2="173.5" stroke="#222" stroke-width="1.2"/>
<line x1="343.89" y1="171.3" x2="343.89" y2="173.5" stroke="#222" stroke-width="1.2"/>
<line x1="346.75" y1="171.3" x2="346.75" y2="173.5" stroke="#222" stroke-width="1.2"/>
<line x1="349.3" y1="171.3" x2="349.3" y2="175.3" stroke="#222" stroke-width="1.2"/>
<line x1="366.1" y1="171.3" x2="366.1" y2="173.5" stroke="#222" stroke-width="1.2"/>
<line x1="375.92" y1="171.3" x2="375.92" y2="173.5" stroke="#222" stroke-width="1.2"/>
<line x1="382.89" y1="171.3" x2="382.89" y2="173.5" stroke="#222" stroke-width="1.2"/>
<line x1="388.3" y1="171.3" x2="388.3" y2="173.5" stroke="#222" stroke-width="1.2"/>
<line x1="392.72" y1="171.3" x2="392.72" y2="173.5" stroke="#222" stroke-width="1.2"/>
<line x1="396.46" y1="171.3" x2="396.46" y2="173.5" stroke="#222" stroke-width="1.2"/>
<line x1="399.69" y1="171.3" x2="399.69" y2="173.5" stroke="#222" stroke-width="1.2"/>
<line x1="402.55" y1="171.3" x2="402.55" y2="173.5" stroke="#222" stroke-width="1.2"/>
<line x1="405.1" y1="171.3" x2="405.1" y2="175.3" stroke="#222" stroke-width="1.2"/>
<line x1="421.9" y1="171.3" x2="421.9" y2="173.5" stroke="#222" stroke-width="1.2"/>
<line x1="431.72" y1="171.3" x2="431.72" y2="173.5" stroke="#222" stroke-width="1.2"/>
<line x1="438.69" y1="171.3" x2="438.69" y2="173.5" stroke="#222" stroke-width="1.2"/>
<line x1="444.1" y1="171.3" x2="444.1" y2="173.5" stroke="#222" stroke-width="1.2"/>
<line x1="448.52" y1="171.3" x2="448.52" y2="173.5" stroke="#222" stroke-width="1.2"/>
<line x1="452.26" y1="171.3" x2="452.26" y2="173.5" stroke="#222" stroke-width="1.2"/>
<line x1="455.49" y1="171.3" x2="455.49" y2="173.5" stroke="#222" stroke-width="1.2"/>
<line x1="458.35" y1="171.3" x2="458.35" y2="173.5" stroke="#222" stroke-width="1.2"/>
<line x1="460.9" y1="171.3" x2="460.9" y2="175.3" stroke="#222" stroke-width="1.2"/>
<line x1="477.7" y1="171.3" x2="477.7" y2="173.5" stroke="#222" stroke-width="1.2"/>
<line x1="487.52" y1="171.3" x2="487.52" y2="173.5" stroke="#222" stroke-width="1.2"/>
<line x1="494.49" y1="171.3" x2="494.49" y2="173.5" stroke="#222" stroke-width="1.2"/>
<line x1="499.9" y1="171.3" x2="499.9" y2="173.5" stroke="#222" stroke-width="1.2"/>
<line x1="504.32" y1="171.3" x2="504.32" y2="173.5" stroke="#222" stroke-width="1.2"/>
<line x1="508.06" y1="171.3" x2="508.06" y2="173.5" stroke="#222" stroke-width="1.2"/>
<line x1="511.29" y1="171.3" x2="511.29" y2="173.5" stroke="#222" stroke-width="1.2"/>
<line x1="514.15" y1="171.3" x2="514.15" y2="173.5" stroke="#222" stroke-width="1.2"/>
<line x1="516.7" y1="171.3" x2="516.7" y2="175.3" stroke="#222" stroke-width="1.2"/>
<text transform="translate(285.9,185.9) scale(1.05,1)" font-size="10" fill="#111">10<tspan dy="-4.6" font-size="7.8">0</tspan></text>
<text transform="translate(333.95,185.9) scale(1.05,1)" font-size="10" fill="#111">10<tspan dy="-4.6" font-size="7.8">1</tspan></text>
<text transform="translate(382,185.9) scale(1.05,1)" font-size="10" fill="#111">10<tspan dy="-4.6" font-size="7.8">2</tspan></text>
<text transform="translate(430.05,185.9) scale(1.05,1)" font-size="10" fill="#111">10<tspan dy="-4.6" font-size="7.8">3</tspan></text>
<text transform="translate(478.1,185.9) scale(1.05,1)" font-size="10" fill="#111">10<tspan dy="-4.6" font-size="7.8">4</tspan></text>
<text x="398" y="197.2" font-size="11.35" text-anchor="middle" font-weight="normal" fill="#111" >Alexa 488</text>
<text transform="translate(263.6,95.9) rotate(-90)" font-size="11.2" text-anchor="middle" fill="#111">Counts</text>
<text x="410.3" y="39.5" font-size="13.3" text-anchor="middle" font-weight="normal" fill="#111" >Antisense oligo of CD9</text>
<path d="M306.2,171.22 L307.1,171.22 L307.1,171.07 L308,171.07 L308,171.04 L308.9,171.04 L308.9,170.65 L309.8,170.65 L309.8,170.48 L310.7,170.48 L310.7,169.97 L311.6,169.97 L311.6,169.89 L312.5,169.89 L312.5,169.23 L313.4,169.23 L313.4,168.71 L314.3,168.71 L314.3,167.79 L315.2,167.79 L315.2,166.13 L316.1,166.13 L316.1,166.3 L317,166.3 L317,163.37 L317.9,163.37 L317.9,161.09 L318.8,161.09 L318.8,158 L319.7,158 L319.7,156.38 L320.6,156.38 L320.6,153.9 L321.5,153.9 L321.5,152.78 L322.4,152.78 L322.4,152.43 L323.3,152.43 L323.3,149.23 L324.2,149.23 L324.2,146.36 L325.1,146.36 L325.1,140 L326,140 L326,136.66 L326.9,136.66 L326.9,133.01 L327.8,133.01 L327.8,129.24 L328.7,129.24 L328.7,125.95 L329.6,125.95 L329.6,121.2 L330.5,121.2 L330.5,118.12 L331.4,118.12 L331.4,116.3 L332.3,116.3 L332.3,108.1 L333.2,108.1 L333.2,106.94 L334.1,106.94 L334.1,102.95 L335,102.95 L335,101.69 L335.9,101.69 L335.9,98.7 L336.8,98.7 L336.8,96.69 L337.7,96.69 L337.7,96.03 L338.6,96.03 L338.6,96.56 L339.5,96.56 L339.5,99.08 L340.4,99.08 L340.4,96.12 L341.3,96.12 L341.3,97.73 L342.2,97.73 L342.2,97.74 L343.1,97.74 L343.1,100.78 L344,100.78 L344,104 L344.9,104 L344.9,105.65 L345.8,105.65 L345.8,112.15 L346.7,112.15 L346.7,112.72 L347.6,112.72 L347.6,117.75 L348.5,117.75 L348.5,123.23 L349.4,123.23 L349.4,127.46 L350.3,127.46 L350.3,131.36 L351.2,131.36 L351.2,138.26 L352.1,138.26 L352.1,141.68 L353,141.68 L353,145.36 L353.9,145.36 L353.9,150.15 L354.8,150.15 L354.8,153.94 L355.7,153.94 L355.7,155.72 L356.6,155.72 L356.6,159.37 L357.5,159.37 L357.5,162.27 L358.4,162.27 L358.4,165.23 L359.3,165.23 L359.3,166.94 L360.2,166.94 L360.2,168.8 L361.1,168.8 L361.1,169.61 L362,169.61 L362,170.07 L362.9,170.07 L362.9,170.92 L363.8,170.92 L363.8,171.3 L364.7,171.3 L364.7,171.3 L306.2,171.3 Z" fill="#c2c2c2" stroke="#444" stroke-width="0.6" stroke-linejoin="round"/>
<path d="M300,171 L300.9,171 L300.9,171 L301.8,171 L301.8,171 L302.7,171 L302.7,171 L303.6,171 L303.6,171 L304.5,171 L304.5,171 L305.4,171 L305.4,171 L306.3,171 L306.3,171 L307.2,171 L307.2,171 L308.1,171 L308.1,171 L309,171 L309,171 L309.9,171 L309.9,171 L310.8,171 L310.8,171 L311.7,171 L311.7,171 L312.6,171 L312.6,171 L313.5,171 L313.5,171 L314.4,171 L314.4,171 L315.3,171 L315.3,171.16 L316.2,171.16 L316.2,170.86 L317.1,170.86 L317.1,170.85 L318,170.85 L318,170.68 L318.9,170.68 L318.9,170.94 L319.8,170.94 L319.8,170.91 L320.7,170.91 L320.7,170.66 L321.6,170.66 L321.6,170.65 L322.5,170.65 L322.5,170.79 L323.4,170.79 L323.4,170.56 L324.3,170.56 L324.3,170.67 L325.2,170.67 L325.2,170.44 L326.1,170.44 L326.1,170.75 L327,170.75 L327,170.66 L327.9,170.66 L327.9,170.19 L328.8,170.19 L328.8,170.41 L329.7,170.41 L329.7,170.37 L330.6,170.37 L330.6,169.91 L331.5,169.91 L331.5,169.92 L332.4,169.92 L332.4,170.17 L333.3,170.17 L333.3,169.77 L334.2,169.77 L334.2,169.24 L335.1,169.24 L335.1,169.27 L336,169.27 L336,168.34 L336.9,168.34 L336.9,168.49 L337.8,168.49 L337.8,167.82 L338.7,167.82 L338.7,167.36 L339.6,167.36 L339.6,166.28 L340.5,166.28 L340.5,164.13 L341.4,164.13 L341.4,163.87 L342.3,163.87 L342.3,161.24 L343.2,161.24 L343.2,160.75 L344.1,160.75 L344.1,158.85 L345,158.85 L345,155.82 L345.9,155.82 L345.9,153.8 L346.8,153.8 L346.8,152.48 L347.7,152.48 L347.7,147.53 L348.6,147.53 L348.6,143.76 L349.5,143.76 L349.5,141.19 L350.4,141.19 L350.4,137.36 L351.3,137.36 L351.3,129.98 L352.2,129.98 L352.2,126.59 L353.1,126.59 L353.1,123.18 L354,123.18 L354,118.63 L354.9,118.63 L354.9,116.84 L355.8,116.84 L355.8,111.12 L356.7,111.12 L356.7,108.05 L357.6,108.05 L357.6,106.22 L358.5,106.22 L358.5,99.64 L359.4,99.64 L359.4,100.18 L360.3,100.18 L360.3,95.7 L361.2,95.7 L361.2,92.83 L362.1,92.83 L362.1,79.63 L363,79.63 L363,90.16 L363.9,90.16 L363.9,89.46 L364.8,89.46 L364.8,93.74 L365.7,93.74 L365.7,93.99 L366.6,93.99 L366.6,95.29 L367.5,95.29 L367.5,99.44 L368.4,99.44 L368.4,104.1 L369.3,104.1 L369.3,108.2 L370.2,108.2 L370.2,114 L371.1,114 L371.1,119.36 L372,119.36 L372,127.2 L372.9,127.2 L372.9,131.2 L373.8,131.2 L373.8,137.36 L374.7,137.36 L374.7,140.3 L375.6,140.3 L375.6,144.67 L376.5,144.67 L376.5,151.56 L377.4,151.56 L377.4,154.9 L378.3,154.9 L378.3,156.67 L379.2,156.67 L379.2,159.7 L380.1,159.7 L380.1,163.44 L381,163.44 L381,163.92 L381.9,163.92 L381.9,164.92 L382.8,164.92 L382.8,167 L383.7,167 L383.7,168.39 L384.6,168.39 L384.6,168.64 L385.5,168.64 L385.5,168.75 L386.4,168.75 L386.4,169.79 L387.3,169.79 L387.3,170.17 L388.2,170.17 L388.2,170.53 L389.1,170.53 L389.1,170.36 L390,170.36 L390,170.54 L390.9,170.54 L390.9,170.74 L391.8,170.74 L391.8,170.77 L392.7,170.77 L392.7,171.01 L393.6,171.01 L393.6,170.98 L394.5,170.98 L394.5,170.78 L395.4,170.78 L395.4,171.01 L396.3,171.01 L396.3,171.02 L397.2,171.02 L397.2,171.03 L398.1,171.03 L398.1,171.04 L399,171.04 L399,171.04 L399.9,171.04 L399.9,171.05 L400.8,171.05 L400.8,171.06 L401.7,171.06 L401.7,171.07 L402.6,171.07 L402.6,171.08 L403.5,171.08 L403.5,171.09 L404.4,171.09 L404.4,171.1 L405.3,171.1" fill="none" stroke="#000" stroke-width="1.9" stroke-linejoin="round" opacity="1"/>
<line x1="293.4" y1="235.3" x2="293.4" y2="378.1" stroke="#222" stroke-width="1.0"/>
<line x1="289.8" y1="377.6" x2="293.4" y2="377.6" stroke="#222" stroke-width="1.0"/>
<text transform="translate(287.3,382) scale(1.06,1)" font-size="10.4" text-anchor="end" font-weight="normal" fill="#111" >0</text>
<line x1="291.1" y1="371.93" x2="293.4" y2="371.93" stroke="#222" stroke-width="1.0"/>
<line x1="291.1" y1="366.26" x2="293.4" y2="366.26" stroke="#222" stroke-width="1.0"/>
<line x1="291.1" y1="360.58" x2="293.4" y2="360.58" stroke="#222" stroke-width="1.0"/>
<line x1="291.1" y1="354.91" x2="293.4" y2="354.91" stroke="#222" stroke-width="1.0"/>
<line x1="289.8" y1="349.24" x2="293.4" y2="349.24" stroke="#222" stroke-width="1.0"/>
<text transform="translate(287.3,353.64) scale(1.06,1)" font-size="10.4" text-anchor="end" font-weight="normal" fill="#111" >40</text>
<line x1="291.1" y1="343.57" x2="293.4" y2="343.57" stroke="#222" stroke-width="1.0"/>
<line x1="291.1" y1="337.9" x2="293.4" y2="337.9" stroke="#222" stroke-width="1.0"/>
<line x1="291.1" y1="332.22" x2="293.4" y2="332.22" stroke="#222" stroke-width="1.0"/>
<line x1="291.1" y1="326.55" x2="293.4" y2="326.55" stroke="#222" stroke-width="1.0"/>
<line x1="289.8" y1="320.88" x2="293.4" y2="320.88" stroke="#222" stroke-width="1.0"/>
<text transform="translate(287.3,325.28) scale(1.06,1)" font-size="10.4" text-anchor="end" font-weight="normal" fill="#111" >80</text>
<line x1="291.1" y1="315.21" x2="293.4" y2="315.21" stroke="#222" stroke-width="1.0"/>
<line x1="291.1" y1="309.54" x2="293.4" y2="309.54" stroke="#222" stroke-width="1.0"/>
<line x1="291.1" y1="303.86" x2="293.4" y2="303.86" stroke="#222" stroke-width="1.0"/>
<line x1="291.1" y1="298.19" x2="293.4" y2="298.19" stroke="#222" stroke-width="1.0"/>
<line x1="289.8" y1="292.52" x2="293.4" y2="292.52" stroke="#222" stroke-width="1.0"/>
<text transform="translate(287.3,296.92) scale(1.06,1)" font-size="10.4" text-anchor="end" font-weight="normal" fill="#111" >120</text>
<line x1="291.1" y1="286.85" x2="293.4" y2="286.85" stroke="#222" stroke-width="1.0"/>
<line x1="291.1" y1="281.18" x2="293.4" y2="281.18" stroke="#222" stroke-width="1.0"/>
<line x1="291.1" y1="275.5" x2="293.4" y2="275.5" stroke="#222" stroke-width="1.0"/>
<line x1="291.1" y1="269.83" x2="293.4" y2="269.83" stroke="#222" stroke-width="1.0"/>
<line x1="289.8" y1="264.16" x2="293.4" y2="264.16" stroke="#222" stroke-width="1.0"/>
<text transform="translate(287.3,268.56) scale(1.06,1)" font-size="10.4" text-anchor="end" font-weight="normal" fill="#111" >160</text>
<line x1="291.1" y1="258.49" x2="293.4" y2="258.49" stroke="#222" stroke-width="1.0"/>
<line x1="291.1" y1="252.82" x2="293.4" y2="252.82" stroke="#222" stroke-width="1.0"/>
<line x1="291.1" y1="247.14" x2="293.4" y2="247.14" stroke="#222" stroke-width="1.0"/>
<line x1="291.1" y1="241.47" x2="293.4" y2="241.47" stroke="#222" stroke-width="1.0"/>
<line x1="289.8" y1="235.8" x2="293.4" y2="235.8" stroke="#222" stroke-width="1.0"/>
<text transform="translate(287.3,240.2) scale(1.06,1)" font-size="10.4" text-anchor="end" font-weight="normal" fill="#111" >200</text>
<line x1="293" y1="377.6" x2="516.8" y2="377.6" stroke="#222" stroke-width="1.2"/>
<line x1="293.5" y1="377.6" x2="293.5" y2="381.6" stroke="#222" stroke-width="1.2"/>
<line x1="310.3" y1="377.6" x2="310.3" y2="379.8" stroke="#222" stroke-width="1.2"/>
<line x1="320.12" y1="377.6" x2="320.12" y2="379.8" stroke="#222" stroke-width="1.2"/>
<line x1="327.09" y1="377.6" x2="327.09" y2="379.8" stroke="#222" stroke-width="1.2"/>
<line x1="332.5" y1="377.6" x2="332.5" y2="379.8" stroke="#222" stroke-width="1.2"/>
<line x1="336.92" y1="377.6" x2="336.92" y2="379.8" stroke="#222" stroke-width="1.2"/>
<line x1="340.66" y1="377.6" x2="340.66" y2="379.8" stroke="#222" stroke-width="1.2"/>
<line x1="343.89" y1="377.6" x2="343.89" y2="379.8" stroke="#222" stroke-width="1.2"/>
<line x1="346.75" y1="377.6" x2="346.75" y2="379.8" stroke="#222" stroke-width="1.2"/>
<line x1="349.3" y1="377.6" x2="349.3" y2="381.6" stroke="#222" stroke-width="1.2"/>
<line x1="366.1" y1="377.6" x2="366.1" y2="379.8" stroke="#222" stroke-width="1.2"/>
<line x1="375.92" y1="377.6" x2="375.92" y2="379.8" stroke="#222" stroke-width="1.2"/>
<line x1="382.89" y1="377.6" x2="382.89" y2="379.8" stroke="#222" stroke-width="1.2"/>
<line x1="388.3" y1="377.6" x2="388.3" y2="379.8" stroke="#222" stroke-width="1.2"/>
<line x1="392.72" y1="377.6" x2="392.72" y2="379.8" stroke="#222" stroke-width="1.2"/>
<line x1="396.46" y1="377.6" x2="396.46" y2="379.8" stroke="#222" stroke-width="1.2"/>
<line x1="399.69" y1="377.6" x2="399.69" y2="379.8" stroke="#222" stroke-width="1.2"/>
<line x1="402.55" y1="377.6" x2="402.55" y2="379.8" stroke="#222" stroke-width="1.2"/>
<line x1="405.1" y1="377.6" x2="405.1" y2="381.6" stroke="#222" stroke-width="1.2"/>
<line x1="421.9" y1="377.6" x2="421.9" y2="379.8" stroke="#222" stroke-width="1.2"/>
<line x1="431.72" y1="377.6" x2="431.72" y2="379.8" stroke="#222" stroke-width="1.2"/>
<line x1="438.69" y1="377.6" x2="438.69" y2="379.8" stroke="#222" stroke-width="1.2"/>
<line x1="444.1" y1="377.6" x2="444.1" y2="379.8" stroke="#222" stroke-width="1.2"/>
<line x1="448.52" y1="377.6" x2="448.52" y2="379.8" stroke="#222" stroke-width="1.2"/>
<line x1="452.26" y1="377.6" x2="452.26" y2="379.8" stroke="#222" stroke-width="1.2"/>
<line x1="455.49" y1="377.6" x2="455.49" y2="379.8" stroke="#222" stroke-width="1.2"/>
<line x1="458.35" y1="377.6" x2="458.35" y2="379.8" stroke="#222" stroke-width="1.2"/>
<line x1="460.9" y1="377.6" x2="460.9" y2="381.6" stroke="#222" stroke-width="1.2"/>
<line x1="477.7" y1="377.6" x2="477.7" y2="379.8" stroke="#222" stroke-width="1.2"/>
<line x1="487.52" y1="377.6" x2="487.52" y2="379.8" stroke="#222" stroke-width="1.2"/>
<line x1="494.49" y1="377.6" x2="494.49" y2="379.8" stroke="#222" stroke-width="1.2"/>
<line x1="499.9" y1="377.6" x2="499.9" y2="379.8" stroke="#222" stroke-width="1.2"/>
<line x1="504.32" y1="377.6" x2="504.32" y2="379.8" stroke="#222" stroke-width="1.2"/>
<line x1="508.06" y1="377.6" x2="508.06" y2="379.8" stroke="#222" stroke-width="1.2"/>
<line x1="511.29" y1="377.6" x2="511.29" y2="379.8" stroke="#222" stroke-width="1.2"/>
<line x1="514.15" y1="377.6" x2="514.15" y2="379.8" stroke="#222" stroke-width="1.2"/>
<line x1="516.7" y1="377.6" x2="516.7" y2="381.6" stroke="#222" stroke-width="1.2"/>
<text transform="translate(285.9,394.1) scale(1.05,1)" font-size="10" fill="#111">10<tspan dy="-4.6" font-size="7.8">0</tspan></text>
<text transform="translate(333.95,394.1) scale(1.05,1)" font-size="10" fill="#111">10<tspan dy="-4.6" font-size="7.8">1</tspan></text>
<text transform="translate(382,394.1) scale(1.05,1)" font-size="10" fill="#111">10<tspan dy="-4.6" font-size="7.8">2</tspan></text>
<text transform="translate(430.05,394.1) scale(1.05,1)" font-size="10" fill="#111">10<tspan dy="-4.6" font-size="7.8">3</tspan></text>
<text transform="translate(478.1,394.1) scale(1.05,1)" font-size="10" fill="#111">10<tspan dy="-4.6" font-size="7.8">4</tspan></text>
<text x="398" y="405.6" font-size="11.35" text-anchor="middle" font-weight="normal" fill="#111" >Alexa 488</text>
<text transform="translate(263.6,307.4) rotate(-90)" font-size="11.2" text-anchor="middle" fill="#111">Counts</text>
<text x="409.3" y="250.6" font-size="13.3" text-anchor="middle" font-weight="normal" fill="#111" >Sense oligo of CD9</text>
<path d="M314.7,377.46 L315.6,377.46 L315.6,376.94 L316.5,376.94 L316.5,377.21 L317.4,377.21 L317.4,376.46 L318.3,376.46 L318.3,376.64 L319.2,376.64 L319.2,375.63 L320.1,375.63 L320.1,376.29 L321,376.29 L321,375.01 L321.9,375.01 L321.9,374.58 L322.8,374.58 L322.8,373.7 L323.7,373.7 L323.7,372.82 L324.6,372.82 L324.6,373.37 L325.5,373.37 L325.5,372.61 L326.4,372.61 L326.4,371.21 L327.3,371.21 L327.3,371.26 L328.2,371.26 L328.2,370.57 L329.1,370.57 L329.1,369.91 L330,369.91 L330,367.77 L330.9,367.77 L330.9,366.68 L331.8,366.68 L331.8,365.56 L332.7,365.56 L332.7,365.78 L333.6,365.78 L333.6,362.61 L334.5,362.61 L334.5,362.4 L335.4,362.4 L335.4,360.29 L336.3,360.29 L336.3,356.59 L337.2,356.59 L337.2,353.25 L338.1,353.25 L338.1,350.41 L339,350.41 L339,345.76 L339.9,345.76 L339.9,345.51 L340.8,345.51 L340.8,341.04 L341.7,341.04 L341.7,334.79 L342.6,334.79 L342.6,332.47 L343.5,332.47 L343.5,330.09 L344.4,330.09 L344.4,324.2 L345.3,324.2 L345.3,320.38 L346.2,320.38 L346.2,320.14 L347.1,320.14 L347.1,314.93 L348,314.93 L348,318.1 L348.9,318.1 L348.9,315.15 L349.8,315.15 L349.8,313.04 L350.7,313.04 L350.7,306.44 L351.6,306.44 L351.6,305.87 L352.5,305.87 L352.5,302.45 L353.4,302.45 L353.4,304.98 L354.3,304.98 L354.3,308.01 L355.2,308.01 L355.2,308.3 L356.1,308.3 L356.1,315.15 L357,315.15 L357,317.35 L357.9,317.35 L357.9,320.04 L358.8,320.04 L358.8,320.1 L359.7,320.1 L359.7,320.98 L360.6,320.98 L360.6,325.53 L361.5,325.53 L361.5,329.6 L362.4,329.6 L362.4,332.64 L363.3,332.64 L363.3,337.76 L364.2,337.76 L364.2,337.82 L365.1,337.82 L365.1,344.23 L366,344.23 L366,348.39 L366.9,348.39 L366.9,351.59 L367.8,351.59 L367.8,353.25 L368.7,353.25 L368.7,358.44 L369.6,358.44 L369.6,359.57 L370.5,359.57 L370.5,364.26 L371.4,364.26 L371.4,366.23 L372.3,366.23 L372.3,368.64 L373.2,368.64 L373.2,368.3 L374.1,368.3 L374.1,370.16 L375,370.16 L375,371.67 L375.9,371.67 L375.9,373.04 L376.8,373.04 L376.8,373.15 L377.7,373.15 L377.7,374.07 L378.6,374.07 L378.6,374.2 L379.5,374.2 L379.5,374.79 L380.4,374.79 L380.4,375.48 L381.3,375.48 L381.3,376.37 L382.2,376.37 L382.2,376.96 L383.1,376.96 L383.1,376.86 L384,376.86 L384,377.52 L384.9,377.52 L384.9,377.6 L314.7,377.6 Z" fill="#c2c2c2" stroke="#444" stroke-width="0.6" stroke-linejoin="round"/>
<path d="M300,377.39 L300.9,377.39 L300.9,377.38 L301.8,377.38 L301.8,377.37 L302.7,377.37 L302.7,377.36 L303.6,377.36 L303.6,377.35 L304.5,377.35 L304.5,377.34 L305.4,377.34 L305.4,377.33 L306.3,377.33 L306.3,377.32 L307.2,377.32 L307.2,377.31 L308.1,377.31 L308.1,377.36 L309,377.36 L309,377.29 L309.9,377.29 L309.9,377.31 L310.8,377.31 L310.8,377.29 L311.7,377.29 L311.7,377.29 L312.6,377.29 L312.6,377.17 L313.5,377.17 L313.5,377.34 L314.4,377.34 L314.4,377.16 L315.3,377.16 L315.3,377.42 L316.2,377.42 L316.2,377.28 L317.1,377.28 L317.1,377.26 L318,377.26 L318,377.33 L318.9,377.33 L318.9,377.05 L319.8,377.05 L319.8,377.23 L320.7,377.23 L320.7,377.01 L321.6,377.01 L321.6,376.93 L322.5,376.93 L322.5,377.23 L323.4,377.23 L323.4,376.93 L324.3,376.93 L324.3,376.89 L325.2,376.89 L325.2,376.78 L326.1,376.78 L326.1,376.98 L327,376.98 L327,376.56 L327.9,376.56 L327.9,376.28 L328.8,376.28 L328.8,376.35 L329.7,376.35 L329.7,376.25 L330.6,376.25 L330.6,376.02 L331.5,376.02 L331.5,375.91 L332.4,375.91 L332.4,375.09 L333.3,375.09 L333.3,374.9 L334.2,374.9 L334.2,374.21 L335.1,374.21 L335.1,373.32 L336,373.32 L336,372.28 L336.9,372.28 L336.9,372.55 L337.8,372.55 L337.8,372.06 L338.7,372.06 L338.7,369.66 L339.6,369.66 L339.6,368.96 L340.5,368.96 L340.5,368.11 L341.4,368.11 L341.4,367.7 L342.3,367.7 L342.3,366.86 L343.2,366.86 L343.2,365.28 L344.1,365.28 L344.1,363.17 L345,363.17 L345,360.94 L345.9,360.94 L345.9,359.13 L346.8,359.13 L346.8,354.41 L347.7,354.41 L347.7,351.17 L348.6,351.17 L348.6,349.9 L349.5,349.9 L349.5,343.39 L350.4,343.39 L350.4,340.64 L351.3,340.64 L351.3,334.69 L352.2,334.69 L352.2,332.24 L353.1,332.24 L353.1,327.13 L354,327.13 L354,324.96 L354.9,324.96 L354.9,320.6 L355.8,320.6 L355.8,317.64 L356.7,317.64 L356.7,316.52 L357.6,316.52 L357.6,312.72 L358.5,312.72 L358.5,309.3 L359.4,309.3 L359.4,305.4 L360.3,305.4 L360.3,302.55 L361.2,302.55 L361.2,298.54 L362.1,298.54 L362.1,296.43 L363,296.43 L363,290.29 L363.9,290.29 L363.9,296.52 L364.8,296.52 L364.8,296.95 L365.7,296.95 L365.7,296.57 L366.6,296.57 L366.6,299.94 L367.5,299.94 L367.5,303.06 L368.4,303.06 L368.4,305.73 L369.3,305.73 L369.3,312.58 L370.2,312.58 L370.2,318.38 L371.1,318.38 L371.1,323.62 L372,323.62 L372,328.91 L372.9,328.91 L372.9,334.72 L373.8,334.72 L373.8,337.46 L374.7,337.46 L374.7,341.82 L375.6,341.82 L375.6,350.16 L376.5,350.16 L376.5,353.62 L377.4,353.62 L377.4,358.25 L378.3,358.25 L378.3,361.97 L379.2,361.97 L379.2,366.15 L380.1,366.15 L380.1,367.7 L381,367.7 L381,369.98 L381.9,369.98 L381.9,371.64 L382.8,371.64 L382.8,373.38 L383.7,373.38 L383.7,373.74 L384.6,373.74 L384.6,373.83 L385.5,373.83 L385.5,375.25 L386.4,375.25 L386.4,375.7 L387.3,375.7 L387.3,376 L388.2,376 L388.2,376.45 L389.1,376.45 L389.1,376.23 L390,376.23 L390,376.15 L390.9,376.15 L390.9,376.45 L391.8,376.45 L391.8,376.83 L392.7,376.83 L392.7,376.93 L393.6,376.93 L393.6,376.93 L394.5,376.93 L394.5,376.73 L395.4,376.73 L395.4,376.64 L396.3,376.64 L396.3,376.91 L397.2,376.91 L397.2,377.15 L398.1,377.15 L398.1,377.13 L399,377.13 L399,377.08 L399.9,377.08 L399.9,377.26 L400.8,377.26 L400.8,377.29 L401.7,377.29 L401.7,377.19 L402.6,377.19 L402.6,377.06 L403.5,377.06 L403.5,377.37 L404.4,377.37 L404.4,377.12 L405.3,377.12" fill="none" stroke="#000" stroke-width="1.9" stroke-linejoin="round" opacity="1"/>
<line x1="323" y1="467.6" x2="323" y2="587.1" stroke="#999" stroke-width="1.5"/>
<line x1="322.3" y1="586.4" x2="499.6" y2="586.4" stroke="#999" stroke-width="1.5"/>
<line x1="319.6" y1="586.4" x2="323" y2="586.4" stroke="#999" stroke-width="1.2"/>
<text transform="translate(317.6,590.3) scale(1.06,1)" font-size="10.5" text-anchor="end" font-weight="normal" fill="#111" >0</text>
<line x1="319.6" y1="547" x2="323" y2="547" stroke="#999" stroke-width="1.2"/>
<text transform="translate(317.6,550.9) scale(1.06,1)" font-size="10.5" text-anchor="end" font-weight="normal" fill="#111" >50</text>
<line x1="319.6" y1="507.6" x2="323" y2="507.6" stroke="#999" stroke-width="1.2"/>
<text transform="translate(317.6,511.5) scale(1.06,1)" font-size="10.5" text-anchor="end" font-weight="normal" fill="#111" >100</text>
<line x1="319.6" y1="468.2" x2="323" y2="468.2" stroke="#999" stroke-width="1.2"/>
<text transform="translate(317.6,472.1) scale(1.06,1)" font-size="10.5" text-anchor="end" font-weight="normal" fill="#111" >150</text>
<rect x="332.6" y="507.36" width="20" height="79.04" fill="#b7b7b7" stroke="#474747" stroke-width="0.9"/>
<line x1="342.6" y1="507.36" x2="342.6" y2="500.51" stroke="#444" stroke-width="1"/>
<line x1="337.4" y1="500.51" x2="347.8" y2="500.51" stroke="#444" stroke-width="1"/>
<rect x="352.6" y="585.22" width="20.1" height="1.18" fill="#787878" stroke="#474747" stroke-width="0.9"/>
<rect x="392.3" y="507.36" width="19.2" height="79.04" fill="#b7b7b7" stroke="#474747" stroke-width="0.9"/>
<line x1="401.9" y1="507.36" x2="401.9" y2="500.51" stroke="#444" stroke-width="1"/>
<line x1="396.7" y1="500.51" x2="407.1" y2="500.51" stroke="#444" stroke-width="1"/>
<rect x="411.5" y="509.57" width="20.2" height="76.83" fill="#787878" stroke="#474747" stroke-width="0.9"/>
<line x1="421.6" y1="509.57" x2="421.6" y2="507.52" stroke="#777" stroke-width="1"/>
<line x1="416.4" y1="507.52" x2="426.8" y2="507.52" stroke="#777" stroke-width="1"/>
<rect x="451.4" y="507.36" width="20" height="79.04" fill="#b7b7b7" stroke="#474747" stroke-width="0.9"/>
<line x1="461.4" y1="507.36" x2="461.4" y2="500.51" stroke="#444" stroke-width="1"/>
<line x1="456.2" y1="500.51" x2="466.6" y2="500.51" stroke="#444" stroke-width="1"/>
<rect x="471.4" y="509.57" width="20.1" height="76.83" fill="#787878" stroke="#474747" stroke-width="0.9"/>
<line x1="481.45" y1="509.57" x2="481.45" y2="508.94" stroke="#777" stroke-width="1"/>
<line x1="476.25" y1="508.94" x2="486.65" y2="508.94" stroke="#777" stroke-width="1"/>
<text x="351.3" y="600.6" font-size="11" text-anchor="middle" font-weight="normal" fill="#111" >anti-CD9</text>
<text x="411.7" y="600.6" font-size="11" text-anchor="middle" font-weight="normal" fill="#111" >anti-CD63</text>
<text x="470.4" y="600.6" font-size="11" text-anchor="middle" font-weight="normal" fill="#111" >anti-CD81</text>
<text x="417" y="614.3" font-size="11" text-anchor="middle" font-weight="normal" fill="#111" >mAb</text>
<rect x="412" y="462" width="18" height="6.2" fill="#b7b7b7" stroke="#474747" stroke-width="0.9"/>
<rect x="412" y="474.6" width="18" height="5.6" fill="#787878" stroke="#474747" stroke-width="0.9"/>
<text x="434.8" y="468.1" font-size="11.1" text-anchor="start" font-weight="normal" fill="#111" >unblocked</text>
<text x="434.8" y="480.7" font-size="11.1" text-anchor="start" font-weight="normal" fill="#111" >mAb blocked</text>
<text transform="translate(279.6,522.3) rotate(-90)" font-size="11.6" text-anchor="middle" fill="#111">Alexa Fuor 488</text>
<text transform="translate(291.2,522.5) rotate(-90)" font-size="11.5" text-anchor="middle" fill="#111">(% of unblocked)</text>
<text x="1.4" y="19.4" font-size="25" text-anchor="start" font-weight="bold" fill="#000" >A</text>
<text transform="translate(253,19.3) scale(1.03,1)" font-size="25" text-anchor="start" font-weight="bold" fill="#000" >B</text>
<text transform="translate(0.2,228.4) scale(0.93,1)" font-size="25" text-anchor="start" font-weight="bold" fill="#000" >C</text>
<text transform="translate(253.3,227.7) scale(0.96,1)" font-size="25" text-anchor="start" font-weight="bold" fill="#000" >D</text>
<text x="0" y="440" font-size="25" text-anchor="start" font-weight="bold" fill="#000" >E</text>
<text transform="translate(253.3,439.8) scale(0.94,1)" font-size="25" text-anchor="start" font-weight="bold" fill="#000" >F</text>
</svg>
</body></html>
